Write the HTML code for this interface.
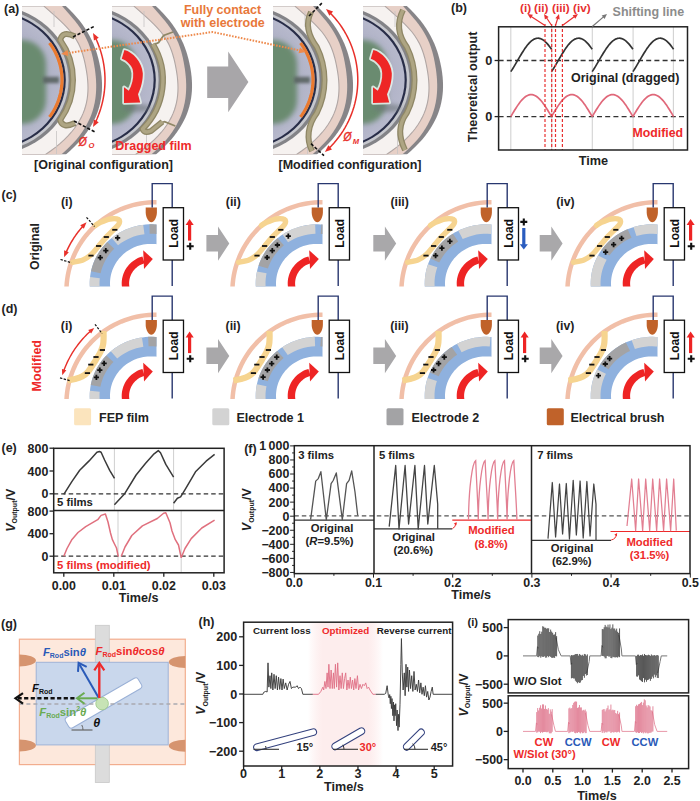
<!DOCTYPE html>
<html><head><meta charset="utf-8"><title>Figure</title>
<style>
html,body{margin:0;padding:0;background:#fff;width:700px;height:801px;overflow:hidden;}
svg{display:block;}
text{font-family:"Liberation Sans",sans-serif;}
</style></head><body>
<svg width="700" height="801" viewBox="0 0 700 801">
<rect width="700" height="801" fill="#fff"/>
<defs>
<radialGradient id="lav" cx="0.5" cy="0.5" r="0.5">
<stop offset="0" stop-color="#a8aac0"/><stop offset="0.7" stop-color="#adafc4"/><stop offset="1" stop-color="#b7b9cc"/>
</radialGradient>
<filter id="blur4" x="-30%" y="-30%" width="160%" height="160%"><feGaussianBlur stdDeviation="4"/></filter>
<filter id="blur2" x="-30%" y="-80%" width="160%" height="260%"><feGaussianBlur stdDeviation="2"/></filter>
<filter id="blur25" x="-30%" y="-30%" width="160%" height="160%"><feGaussianBlur stdDeviation="2.5"/></filter>
<filter id="blur15" x="-30%" y="-80%" width="160%" height="260%"><feGaussianBlur stdDeviation="1.5"/></filter>
<filter id="blur1" x="-30%" y="-60%" width="160%" height="220%"><feGaussianBlur stdDeviation="1.3"/></filter>
</defs>
<text x="4" y="13" font-size="12.5" fill="#222" text-anchor="start" font-weight="bold" >(a)</text>
<clipPath id="pc1"><rect x="22" y="6" width="86" height="148.5"/></clipPath>
<g clip-path="url(#pc1)">
<path d="M65.86 6 L69.75 9.71 L73.35 13.43 L76.66 17.14 L79.71 20.85 L82.51 24.56 L85.06 28.27 L87.38 31.99 L89.48 35.7 L91.37 39.41 L93.07 43.12 L94.59 46.84 L95.94 50.55 L97.14 54.26 L98.18 57.98 L99.1 61.69 L99.89 65.4 L100.57 69.11 L101.14 72.83 L101.57 76.54 L101.87 80.25 L102.02 83.96 L102.02 87.67 L101.86 91.39 L101.53 95.1 L101.01 98.81 L100.31 102.52 L99.41 106.24 L98.31 109.95 L96.99 113.66 L95.45 117.38 L93.68 121.09 L91.67 124.8 L89.41 128.51 L86.89 132.22 L84.11 135.94 L81.05 139.65 L77.71 143.36 L74.07 147.07 L70.14 150.79 L65.9 154.5 L17 155 L17 6 Z" fill="#878588"/>
<path d="M62.08 6 L65.38 9.71 L68.65 13.43 L71.82 17.14 L74.86 20.85 L77.74 24.56 L80.39 28.27 L82.78 31.99 L84.89 35.7 L86.74 39.41 L88.35 43.12 L89.74 46.84 L90.94 50.55 L91.97 54.26 L92.86 57.98 L93.62 61.69 L94.28 65.4 L94.86 69.11 L95.35 72.83 L95.74 76.54 L96.01 80.25 L96.17 83.96 L96.19 87.67 L96.06 91.39 L95.78 95.1 L95.33 98.81 L94.71 102.52 L93.89 106.24 L92.88 109.95 L91.66 113.66 L90.21 117.38 L88.53 121.09 L86.62 124.8 L84.44 128.51 L82.01 132.22 L79.29 135.94 L76.29 139.65 L73 143.36 L69.39 147.07 L65.47 150.79 L61.21 154.5 L17 155 L17 6 Z" fill="#e7d0c7"/>
<path d="M43.85 6 L48 9.71 L52.2 13.43 L56.36 17.14 L60.41 20.85 L64.26 24.56 L67.81 28.27 L71 31.99 L73.78 35.7 L76.17 39.41 L78.22 43.12 L79.96 46.84 L81.44 50.55 L82.69 54.26 L83.75 57.98 L84.66 61.69 L85.45 65.4 L86.16 69.11 L86.78 72.83 L87.29 76.54 L87.67 80.25 L87.91 83.96 L88 87.67 L87.92 91.39 L87.65 95.1 L87.18 98.81 L86.49 102.52 L85.57 106.24 L84.41 109.95 L82.98 113.66 L81.27 117.38 L79.27 121.09 L76.96 124.8 L74.33 128.51 L71.36 132.22 L68.04 135.94 L64.34 139.65 L60.26 143.36 L55.78 147.07 L50.89 150.79 L45.57 154.5 L17 155 L17 6 Z" fill="#f6f2f0" stroke="#b0a6a4" stroke-width="1.1"/>
<path d="M54 11 L54 27 M56.5 131 L56.5 154" stroke="#c8c4c4" stroke-width="0.8"/>
</g>
<clipPath id="dc1"><rect x="22" y="6" width="86" height="148.5"/></clipPath>
<g clip-path="url(#dc1)">
<g transform="translate(-10.1 80) scale(1 0.912)">
<circle cx="0" cy="0" r="82.2" fill="#838387"/>
<circle cx="0" cy="0" r="78.7" fill="#c6c7cd"/>
<circle cx="0" cy="0" r="75.9" fill="#282d48"/>
<circle cx="0" cy="0" r="73.7" fill="url(#lav)"/>
</g>
<rect x="-8" y="40" width="54" height="84" rx="24" fill="#6a8b70" filter="url(#blur25)"/>
<rect x="43" y="76.8" width="16" height="6.4" fill="#596260" opacity="0.9" filter="url(#blur15)"/>
<path d="M49.5 43 L51.07 45.19 L52.54 47.44 L53.92 49.75 L55.19 52.1 L56.35 54.49 L57.41 56.92 L58.37 59.39 L59.21 61.9 L59.95 64.43 L60.57 66.99 L61.09 69.56 L61.49 72.16 L61.77 74.77 L61.94 77.38 L62 80 L61.94 82.62 L61.77 85.23 L61.49 87.84 L61.09 90.44 L60.57 93.01 L59.95 95.57 L59.21 98.1 L58.37 100.61 L57.41 103.08 L56.35 105.51 L55.19 107.9 L53.92 110.25 L52.54 112.56 L51.07 114.81 L49.5 117" stroke="#ea7a30" stroke-width="3.2" fill="none"/>
</g>
<path d="M75 36.5 Q62.5 30 60.2 40 A68.9 68.9 0 0 1 60.2 120 Q62.5 129 75 123" stroke="#8f8766" stroke-width="6" fill="none"/><path d="M75 36.5 Q62.5 30 60.2 40 A68.9 68.9 0 0 1 60.2 120 Q62.5 129 75 123" stroke="#aea583" stroke-width="3.4" fill="none"/>
<clipPath id="pc2"><rect x="112" y="6" width="86" height="148.5"/></clipPath>
<g clip-path="url(#pc2)">
<path d="M155.86 6 L159.75 9.71 L163.35 13.43 L166.66 17.14 L169.71 20.85 L172.51 24.56 L175.06 28.27 L177.38 31.99 L179.48 35.7 L181.37 39.41 L183.07 43.12 L184.59 46.84 L185.94 50.55 L187.14 54.26 L188.18 57.98 L189.1 61.69 L189.89 65.4 L190.57 69.11 L191.14 72.83 L191.57 76.54 L191.87 80.25 L192.02 83.96 L192.02 87.67 L191.86 91.39 L191.53 95.1 L191.01 98.81 L190.31 102.52 L189.41 106.24 L188.31 109.95 L186.99 113.66 L185.45 117.38 L183.68 121.09 L181.67 124.8 L179.41 128.51 L176.89 132.22 L174.11 135.94 L171.05 139.65 L167.71 143.36 L164.07 147.07 L160.14 150.79 L155.9 154.5 L107 155 L107 6 Z" fill="#878588"/>
<path d="M152.08 6 L155.38 9.71 L158.65 13.43 L161.82 17.14 L164.86 20.85 L167.74 24.56 L170.39 28.27 L172.78 31.99 L174.89 35.7 L176.74 39.41 L178.35 43.12 L179.74 46.84 L180.94 50.55 L181.97 54.26 L182.86 57.98 L183.62 61.69 L184.28 65.4 L184.86 69.11 L185.35 72.83 L185.74 76.54 L186.01 80.25 L186.17 83.96 L186.19 87.67 L186.06 91.39 L185.78 95.1 L185.33 98.81 L184.71 102.52 L183.89 106.24 L182.88 109.95 L181.66 113.66 L180.21 117.38 L178.53 121.09 L176.62 124.8 L174.44 128.51 L172.01 132.22 L169.29 135.94 L166.29 139.65 L163 143.36 L159.39 147.07 L155.47 150.79 L151.21 154.5 L107 155 L107 6 Z" fill="#e7d0c7"/>
<path d="M133.85 6 L138 9.71 L142.2 13.43 L146.36 17.14 L150.41 20.85 L154.26 24.56 L157.81 28.27 L161 31.99 L163.78 35.7 L166.17 39.41 L168.22 43.12 L169.96 46.84 L171.44 50.55 L172.69 54.26 L173.75 57.98 L174.66 61.69 L175.45 65.4 L176.16 69.11 L176.78 72.83 L177.29 76.54 L177.67 80.25 L177.91 83.96 L178 87.67 L177.92 91.39 L177.65 95.1 L177.18 98.81 L176.49 102.52 L175.57 106.24 L174.41 109.95 L172.98 113.66 L171.27 117.38 L169.27 121.09 L166.96 124.8 L164.33 128.51 L161.36 132.22 L158.04 135.94 L154.34 139.65 L150.26 143.36 L145.78 147.07 L140.89 150.79 L135.57 154.5 L107 155 L107 6 Z" fill="#f6f2f0" stroke="#b0a6a4" stroke-width="1.1"/>
<path d="M144 11 L144 27 M146.5 131 L146.5 154" stroke="#c8c4c4" stroke-width="0.8"/>
</g>
<clipPath id="dc2"><rect x="112" y="6" width="86" height="148.5"/></clipPath>
<g clip-path="url(#dc2)">
<g transform="translate(79.9 80) scale(1 0.912)">
<circle cx="0" cy="0" r="82.2" fill="#838387"/>
<circle cx="0" cy="0" r="78.7" fill="#c6c7cd"/>
<circle cx="0" cy="0" r="75.9" fill="#282d48"/>
<circle cx="0" cy="0" r="73.7" fill="url(#lav)"/>
</g>
<rect x="82" y="40" width="54" height="84" rx="24" fill="#6a8b70" filter="url(#blur25)"/>
<ellipse cx="137" cy="108" rx="14" ry="4" fill="#6d7478" opacity="0.6" filter="url(#blur2)"/>
</g>
<path d="M173 32 L163.6 35.4 L158.6 42.6 L153.5 45 M161.5 122.5 L164.6 121.7 L175.3 126" stroke="#8f8766" stroke-width="1.8" fill="none"/><path d="M152.8 44 A68.9 68.9 0 0 1 142.5 129 Q144.5 133.5 151 131 L162.4 121.7" stroke="#8f8766" stroke-width="6" fill="none" stroke-linejoin="round"/><path d="M152.8 44 A68.9 68.9 0 0 1 142.5 129 Q144.5 133.5 151 131 L162.4 121.7" stroke="#aea583" stroke-width="3.4" fill="none" stroke-linejoin="round"/>
<g transform="translate(0 0)"><path d="M121.8 58.8 L124.4 50 C133 52 142 62 142.8 73.2 C143 80 141 88 138 94.2 L140.2 102.5 L124 102.9 L124 87.2 L128.8 90.7 C132 85 133.5 79 133.2 73.2 C133 68 131 66 129.7 64.5 C127 61 124 59.5 121.8 58.8 Z" fill="none" stroke="#e4eeea" stroke-width="3.5" stroke-linejoin="round" opacity="0.9"/><path d="M121.8 58.8 L124.4 50 C133 52 142 62 142.8 73.2 C143 80 141 88 138 94.2 L140.2 102.5 L124 102.9 L124 87.2 L128.8 90.7 C132 85 133.5 79 133.2 73.2 C133 68 131 66 129.7 64.5 C127 61 124 59.5 121.8 58.8 Z" fill="#ee2626"/></g>
<clipPath id="pc3"><rect x="273" y="6" width="86" height="148.5"/></clipPath>
<g clip-path="url(#pc3)">
<path d="M316.86 6 L320.75 9.71 L324.35 13.43 L327.66 17.14 L330.71 20.85 L333.51 24.56 L336.06 28.27 L338.38 31.99 L340.48 35.7 L342.37 39.41 L344.07 43.12 L345.59 46.84 L346.94 50.55 L348.14 54.26 L349.18 57.98 L350.1 61.69 L350.89 65.4 L351.57 69.11 L352.14 72.83 L352.57 76.54 L352.87 80.25 L353.02 83.96 L353.02 87.67 L352.86 91.39 L352.53 95.1 L352.01 98.81 L351.31 102.52 L350.41 106.24 L349.31 109.95 L347.99 113.66 L346.45 117.38 L344.68 121.09 L342.67 124.8 L340.41 128.51 L337.89 132.22 L335.11 135.94 L332.05 139.65 L328.71 143.36 L325.07 147.07 L321.14 150.79 L316.9 154.5 L268 155 L268 6 Z" fill="#878588"/>
<path d="M313.08 6 L316.38 9.71 L319.65 13.43 L322.82 17.14 L325.86 20.85 L328.74 24.56 L331.39 28.27 L333.78 31.99 L335.89 35.7 L337.74 39.41 L339.35 43.12 L340.74 46.84 L341.94 50.55 L342.97 54.26 L343.86 57.98 L344.62 61.69 L345.28 65.4 L345.86 69.11 L346.35 72.83 L346.74 76.54 L347.01 80.25 L347.17 83.96 L347.19 87.67 L347.06 91.39 L346.78 95.1 L346.33 98.81 L345.71 102.52 L344.89 106.24 L343.88 109.95 L342.66 113.66 L341.21 117.38 L339.53 121.09 L337.62 124.8 L335.44 128.51 L333.01 132.22 L330.29 135.94 L327.29 139.65 L324 143.36 L320.39 147.07 L316.47 150.79 L312.21 154.5 L268 155 L268 6 Z" fill="#e7d0c7"/>
<path d="M294.85 6 L299 9.71 L303.2 13.43 L307.36 17.14 L311.41 20.85 L315.26 24.56 L318.81 28.27 L322 31.99 L324.78 35.7 L327.17 39.41 L329.22 43.12 L330.96 46.84 L332.44 50.55 L333.69 54.26 L334.75 57.98 L335.66 61.69 L336.45 65.4 L337.16 69.11 L337.78 72.83 L338.29 76.54 L338.67 80.25 L338.91 83.96 L339 87.67 L338.92 91.39 L338.65 95.1 L338.18 98.81 L337.49 102.52 L336.57 106.24 L335.41 109.95 L333.98 113.66 L332.27 117.38 L330.27 121.09 L327.96 124.8 L325.33 128.51 L322.36 132.22 L319.04 135.94 L315.34 139.65 L311.26 143.36 L306.78 147.07 L301.89 150.79 L296.57 154.5 L268 155 L268 6 Z" fill="#f6f2f0" stroke="#b0a6a4" stroke-width="1.1"/>
<path d="M305 11 L305 27 M307.5 131 L307.5 154" stroke="#c8c4c4" stroke-width="0.8"/>
</g>
<clipPath id="dc3"><rect x="273" y="6" width="86" height="148.5"/></clipPath>
<g clip-path="url(#dc3)">
<g transform="translate(240.9 80) scale(1 0.912)">
<circle cx="0" cy="0" r="82.2" fill="#838387"/>
<circle cx="0" cy="0" r="78.7" fill="#c6c7cd"/>
<circle cx="0" cy="0" r="75.9" fill="#282d48"/>
<circle cx="0" cy="0" r="73.7" fill="url(#lav)"/>
</g>
<rect x="243" y="40" width="54" height="84" rx="24" fill="#6a8b70" filter="url(#blur25)"/>
<rect x="294" y="76.8" width="16" height="6.4" fill="#596260" opacity="0.9" filter="url(#blur15)"/>
<path d="M300.5 43 L302.07 45.19 L303.54 47.44 L304.92 49.75 L306.19 52.1 L307.35 54.49 L308.41 56.92 L309.37 59.39 L310.21 61.9 L310.95 64.43 L311.57 66.99 L312.09 69.56 L312.49 72.16 L312.77 74.77 L312.94 77.38 L313 80 L312.94 82.62 L312.77 85.23 L312.49 87.84 L312.09 90.44 L311.57 93.01 L310.95 95.57 L310.21 98.1 L309.37 100.61 L308.41 103.08 L307.35 105.51 L306.19 107.9 L304.92 110.25 L303.54 112.56 L302.07 114.81 L300.5 117" stroke="#ea7a30" stroke-width="3.2" fill="none"/>
</g>
<path d="M311 12 C305 24 307.79 35 316.79 47 A74.5 74.5 0 0 1 316.79 113 C307.79 125 306 139 312 151" stroke="#8f8766" stroke-width="6" fill="none"/><path d="M311 12 C305 24 307.79 35 316.79 47 A74.5 74.5 0 0 1 316.79 113 C307.79 125 306 139 312 151" stroke="#aea583" stroke-width="3.4" fill="none"/>
<clipPath id="pc4"><rect x="363" y="6" width="86" height="148.5"/></clipPath>
<g clip-path="url(#pc4)">
<path d="M406.86 6 L410.75 9.71 L414.35 13.43 L417.66 17.14 L420.71 20.85 L423.51 24.56 L426.06 28.27 L428.38 31.99 L430.48 35.7 L432.37 39.41 L434.07 43.12 L435.59 46.84 L436.94 50.55 L438.14 54.26 L439.18 57.98 L440.1 61.69 L440.89 65.4 L441.57 69.11 L442.14 72.83 L442.57 76.54 L442.87 80.25 L443.02 83.96 L443.02 87.67 L442.86 91.39 L442.53 95.1 L442.01 98.81 L441.31 102.52 L440.41 106.24 L439.31 109.95 L437.99 113.66 L436.45 117.38 L434.68 121.09 L432.67 124.8 L430.41 128.51 L427.89 132.22 L425.11 135.94 L422.05 139.65 L418.71 143.36 L415.07 147.07 L411.14 150.79 L406.9 154.5 L358 155 L358 6 Z" fill="#878588"/>
<path d="M403.08 6 L406.38 9.71 L409.65 13.43 L412.82 17.14 L415.86 20.85 L418.74 24.56 L421.39 28.27 L423.78 31.99 L425.89 35.7 L427.74 39.41 L429.35 43.12 L430.74 46.84 L431.94 50.55 L432.97 54.26 L433.86 57.98 L434.62 61.69 L435.28 65.4 L435.86 69.11 L436.35 72.83 L436.74 76.54 L437.01 80.25 L437.17 83.96 L437.19 87.67 L437.06 91.39 L436.78 95.1 L436.33 98.81 L435.71 102.52 L434.89 106.24 L433.88 109.95 L432.66 113.66 L431.21 117.38 L429.53 121.09 L427.62 124.8 L425.44 128.51 L423.01 132.22 L420.29 135.94 L417.29 139.65 L414 143.36 L410.39 147.07 L406.47 150.79 L402.21 154.5 L358 155 L358 6 Z" fill="#e7d0c7"/>
<path d="M384.85 6 L389 9.71 L393.2 13.43 L397.36 17.14 L401.41 20.85 L405.26 24.56 L408.81 28.27 L412 31.99 L414.78 35.7 L417.17 39.41 L419.22 43.12 L420.96 46.84 L422.44 50.55 L423.69 54.26 L424.75 57.98 L425.66 61.69 L426.45 65.4 L427.16 69.11 L427.78 72.83 L428.29 76.54 L428.67 80.25 L428.91 83.96 L429 87.67 L428.92 91.39 L428.65 95.1 L428.18 98.81 L427.49 102.52 L426.57 106.24 L425.41 109.95 L423.98 113.66 L422.27 117.38 L420.27 121.09 L417.96 124.8 L415.33 128.51 L412.36 132.22 L409.04 135.94 L405.34 139.65 L401.26 143.36 L396.78 147.07 L391.89 150.79 L386.57 154.5 L358 155 L358 6 Z" fill="#f6f2f0" stroke="#b0a6a4" stroke-width="1.1"/>
<path d="M395 11 L395 27 M397.5 131 L397.5 154" stroke="#c8c4c4" stroke-width="0.8"/>
</g>
<clipPath id="dc4"><rect x="363" y="6" width="86" height="148.5"/></clipPath>
<g clip-path="url(#dc4)">
<g transform="translate(330.9 80) scale(1 0.912)">
<circle cx="0" cy="0" r="82.2" fill="#838387"/>
<circle cx="0" cy="0" r="78.7" fill="#c6c7cd"/>
<circle cx="0" cy="0" r="75.9" fill="#282d48"/>
<circle cx="0" cy="0" r="73.7" fill="url(#lav)"/>
</g>
<rect x="333" y="40" width="54" height="84" rx="24" fill="#6a8b70" filter="url(#blur25)"/>
<ellipse cx="388" cy="108" rx="14" ry="4" fill="#6d7478" opacity="0.6" filter="url(#blur2)"/>
</g>
<path d="M403 10 C397 22 397.79 35 406.79 47 A74.5 74.5 0 0 1 406.79 113 C397.79 125 399 138 405 150" stroke="#8f8766" stroke-width="6" fill="none"/><path d="M403 10 C397 22 397.79 35 406.79 47 A74.5 74.5 0 0 1 406.79 113 C397.79 125 399 138 405 150" stroke="#aea583" stroke-width="3.4" fill="none"/>
<g transform="translate(249 0)"><path d="M121.8 58.8 L124.4 50 C133 52 142 62 142.8 73.2 C143 80 141 88 138 94.2 L140.2 102.5 L124 102.9 L124 87.2 L128.8 90.7 C132 85 133.5 79 133.2 73.2 C133 68 131 66 129.7 64.5 C127 61 124 59.5 121.8 58.8 Z" fill="none" stroke="#e4eeea" stroke-width="3.5" stroke-linejoin="round" opacity="0.9"/><path d="M121.8 58.8 L124.4 50 C133 52 142 62 142.8 73.2 C143 80 141 88 138 94.2 L140.2 102.5 L124 102.9 L124 87.2 L128.8 90.7 C132 85 133.5 79 133.2 73.2 C133 68 131 66 129.7 64.5 C127 61 124 59.5 121.8 58.8 Z" fill="#ee2626"/></g>
<path d="M207.2 66.6 L228.2 66.6 L228.2 51.6 L248.4 82 L228.2 112.3 L228.2 98 L207.2 98 Z" fill="#a8a6a9"/>
<path d="M73 37 L95 26" stroke="#111" stroke-width="1.6" stroke-dasharray="3.2 1.8" fill="none"/>
<path d="M74 121 L95 132" stroke="#111" stroke-width="1.6" stroke-dasharray="3.2 1.8" fill="none"/>
<path d="M309 16 L323 2" stroke="#111" stroke-width="1.6" stroke-dasharray="3.2 1.8" fill="none"/>
<path d="M311 143.7 L324 155.7" stroke="#111" stroke-width="1.6" stroke-dasharray="3.2 1.8" fill="none"/>
<path d="M95.34 37.56 L96.26 39.55 L97.15 41.56 L97.99 43.59 L98.78 45.64 L99.52 47.7 L100.22 49.78 L100.88 51.87 L101.48 53.98 L102.04 56.11 L102.55 58.24 L103.02 60.38 L103.43 62.54 L103.8 64.7 L104.12 66.87 L104.39 69.05 L104.61 71.23 L104.78 73.42 L104.9 75.61 L104.98 77.81 L105 80 L104.98 82.19 L104.9 84.39 L104.78 86.58 L104.61 88.77 L104.39 90.95 L104.12 93.13 L103.8 95.3 L103.43 97.46 L103.02 99.62 L102.55 101.76 L102.04 103.89 L101.48 106.02 L100.88 108.13 L100.22 110.22 L99.52 112.3 L98.78 114.36 L97.99 116.41 L97.15 118.44 L96.26 120.45 L95.34 122.44" stroke="#e8302a" stroke-width="1.5" fill="none"/>
<path d="M92.99 33 L98.76 37.82 L93.94 40.46 Z" fill="#e8302a"/>
<path d="M92.99 127 L93.94 119.54 L98.76 122.18 Z" fill="#e8302a"/>
<path d="M329.65 12.42 L332.29 15.14 L334.82 17.97 L337.23 20.9 L339.53 23.92 L341.7 27.03 L343.75 30.23 L345.67 33.5 L347.46 36.85 L349.11 40.26 L350.63 43.74 L352 47.28 L353.23 50.87 L354.32 54.51 L355.27 58.18 L356.06 61.89 L356.71 65.63 L357.21 69.39 L357.55 73.17 L357.75 76.96 L357.8 80.76 L357.69 84.55 L357.43 88.34 L357.03 92.11 L356.47 95.86 L355.76 99.59 L354.91 103.29 L353.91 106.95 L352.76 110.57 L351.47 114.14 L350.04 117.65 L348.47 121.11 L346.76 124.5 L344.92 127.82 L342.95 131.06 L340.85 134.22 L338.63 137.3 L336.28 140.28 L333.82 143.17 L331.25 145.96 L328.56 148.64" stroke="#e8302a" stroke-width="1.5" fill="none"/>
<path d="M326.02 9 L333.07 11.61 L329.41 15.71 Z" fill="#e8302a"/>
<path d="M324.88 152 L328.38 145.34 L331.98 149.5 Z" fill="#e8302a"/>
<text transform="translate(78.8 146.3) scale(0.8 1)" font-size="12.8" fill="#e8302a" font-style="italic" stroke="#e8302a" stroke-width="0.45">&#216;</text>
<text x="88.6" y="148.3" font-size="7.6" fill="#e8302a" text-anchor="start" font-weight="bold" font-style="italic" >O</text>
<text transform="translate(343.6 141.2) scale(0.8 1)" font-size="12.8" fill="#e8302a" font-style="italic" stroke="#e8302a" stroke-width="0.45">&#216;</text>
<text x="352.8" y="143.6" font-size="7.6" fill="#e8302a" text-anchor="start" font-weight="bold" font-style="italic" >M</text>
<path d="M66 53.3 L212.5 32 L300 50.5" stroke="#ee8a4c" stroke-width="2" stroke-dasharray="1.6 1.4" fill="none"/>
<path d="M61 54 L67.52 50.06 L68.35 56 Z" fill="#ee8a4c"/>
<path d="M306 52 L298.48 53.21 L299.94 47.39 Z" fill="#ee8a4c"/>
<text x="222.5" y="13.7" font-size="12.5" fill="#e8783a" text-anchor="middle" font-weight="bold" >Fully contact</text>
<text x="222.8" y="27.4" font-size="12.5" fill="#e8783a" text-anchor="middle" font-weight="bold" >with electrode</text>
<text x="153.5" y="149.7" font-size="12.5" fill="#ee2a2a" text-anchor="middle" font-weight="bold" >Dragged film</text>
<text x="103.5" y="169.3" font-size="12.5" fill="#222" text-anchor="middle" font-weight="bold" >[Original configuration]</text>
<text x="350" y="169.3" font-size="12.5" fill="#222" text-anchor="middle" font-weight="bold" >[Modified configuration]</text>
<text x="451" y="11.5" font-size="12.5" fill="#222" text-anchor="start" font-weight="bold" >(b)</text>
<path d="M510.8 26.8 L510.8 150" stroke="#d2d2d2" stroke-width="1.1"/>
<path d="M551.7 26.8 L551.7 150" stroke="#d2d2d2" stroke-width="1.1"/>
<path d="M592.3 26.8 L592.3 150" stroke="#d2d2d2" stroke-width="1.1"/>
<path d="M633.1 26.8 L633.1 150" stroke="#d2d2d2" stroke-width="1.1"/>
<path d="M673.4 26.8 L673.4 150" stroke="#d2d2d2" stroke-width="1.1"/>
<path d="M498.6 60.5 L687.5 60.5" stroke="#333" stroke-width="1.3" stroke-dasharray="5 3.2"/>
<path d="M494.6 60.5 L498.6 60.5" stroke="#222" stroke-width="1.3"/>
<text x="492.3" y="65.1" font-size="12.7" fill="#222" text-anchor="end" font-weight="bold" >0</text>
<path d="M498.6 116.6 L687.5 116.6" stroke="#333" stroke-width="1.3" stroke-dasharray="5 3.2"/>
<path d="M494.6 116.6 L498.6 116.6" stroke="#222" stroke-width="1.3"/>
<text x="492.3" y="121.2" font-size="12.7" fill="#222" text-anchor="end" font-weight="bold" >0</text>
<path d="M510.8 71.65 L511.82 70.1 L512.84 68.49 L513.85 66.83 L514.87 65.14 L515.89 63.41 L516.9 61.67 L517.92 59.92 L518.94 58.17 L519.96 56.44 L520.98 54.73 L521.99 53.06 L523.01 51.43 L524.03 49.86 L525.04 48.35 L526.06 46.92 L527.08 45.58 L528.1 44.32 L529.12 43.17 L530.13 42.12 L531.15 41.19 L532.17 40.37 L533.19 39.68 L534.2 39.12 L535.22 38.69 L536.24 38.39 L537.25 38.23 L538.27 38.21 L539.29 38.32 L540.31 38.57 L541.33 38.96 L542.34 39.48 L543.36 40.13 L544.38 40.9 L545.39 41.8 L546.41 42.81 L547.43 43.93 L548.45 45.15 L549.47 46.47 L550.48 47.87 L551.5 49.35" stroke="#333" stroke-width="1.7" fill="none"/>
<path d="M551.5 71.65 L552.52 70.1 L553.53 68.49 L554.55 66.83 L555.57 65.14 L556.59 63.41 L557.61 61.67 L558.62 59.92 L559.64 58.17 L560.66 56.44 L561.67 54.73 L562.69 53.06 L563.71 51.43 L564.73 49.86 L565.75 48.35 L566.76 46.92 L567.78 45.58 L568.8 44.32 L569.82 43.17 L570.83 42.12 L571.85 41.19 L572.87 40.37 L573.88 39.68 L574.9 39.12 L575.92 38.69 L576.94 38.39 L577.96 38.23 L578.97 38.21 L579.99 38.32 L581.01 38.57 L582.02 38.96 L583.04 39.48 L584.06 40.13 L585.08 40.9 L586.1 41.8 L587.11 42.81 L588.13 43.93 L589.15 45.15 L590.16 46.47 L591.18 47.87 L592.2 49.35" stroke="#333" stroke-width="1.7" fill="none"/>
<path d="M592.2 71.65 L593.22 70.1 L594.24 68.49 L595.25 66.83 L596.27 65.14 L597.29 63.41 L598.31 61.67 L599.32 59.92 L600.34 58.17 L601.36 56.44 L602.38 54.73 L603.39 53.06 L604.41 51.43 L605.43 49.86 L606.45 48.35 L607.46 46.92 L608.48 45.58 L609.5 44.32 L610.52 43.17 L611.53 42.12 L612.55 41.19 L613.57 40.37 L614.59 39.68 L615.6 39.12 L616.62 38.69 L617.64 38.39 L618.66 38.23 L619.67 38.21 L620.69 38.32 L621.71 38.57 L622.73 38.96 L623.74 39.48 L624.76 40.13 L625.78 40.9 L626.8 41.8 L627.81 42.81 L628.83 43.93 L629.85 45.15 L630.87 46.47 L631.88 47.87 L632.9 49.35" stroke="#333" stroke-width="1.7" fill="none"/>
<path d="M632.9 71.65 L633.92 70.1 L634.93 68.49 L635.95 66.83 L636.97 65.14 L637.99 63.41 L639 61.67 L640.02 59.92 L641.04 58.17 L642.06 56.44 L643.07 54.73 L644.09 53.06 L645.11 51.43 L646.13 49.86 L647.14 48.35 L648.16 46.92 L649.18 45.58 L650.2 44.32 L651.22 43.17 L652.23 42.12 L653.25 41.19 L654.27 40.37 L655.28 39.68 L656.3 39.12 L657.32 38.69 L658.34 38.39 L659.36 38.23 L660.37 38.21 L661.39 38.32 L662.41 38.57 L663.42 38.96 L664.44 39.48 L665.46 40.13 L666.48 40.9 L667.5 41.8 L668.51 42.81 L669.53 43.93 L670.55 45.15 L671.56 46.47 L672.58 47.87 L673.6 49.35" stroke="#333" stroke-width="1.7" fill="none"/>
<path d="M510.8 116.6 L511.82 114.87 L512.84 113.16 L513.85 111.46 L514.87 109.8 L515.89 108.18 L516.9 106.61 L517.92 105.11 L518.94 103.67 L519.96 102.31 L520.98 101.04 L521.99 99.87 L523.01 98.8 L524.03 97.84 L525.04 97 L526.06 96.27 L527.08 95.68 L528.1 95.21 L529.12 94.87 L530.13 94.67 L531.15 94.6 L532.17 94.67 L533.19 94.87 L534.2 95.21 L535.22 95.68 L536.24 96.27 L537.25 97 L538.27 97.84 L539.29 98.8 L540.31 99.87 L541.33 101.04 L542.34 102.31 L543.36 103.67 L544.38 105.11 L545.39 106.61 L546.41 108.18 L547.43 109.8 L548.45 111.46 L549.47 113.16 L550.48 114.87 L551.5 116.6" stroke="#e0687a" stroke-width="1.7" fill="none"/>
<path d="M551.5 116.6 L552.52 114.87 L553.53 113.16 L554.55 111.46 L555.57 109.8 L556.59 108.18 L557.61 106.61 L558.62 105.11 L559.64 103.67 L560.66 102.31 L561.67 101.04 L562.69 99.87 L563.71 98.8 L564.73 97.84 L565.75 97 L566.76 96.27 L567.78 95.68 L568.8 95.21 L569.82 94.87 L570.83 94.67 L571.85 94.6 L572.87 94.67 L573.88 94.87 L574.9 95.21 L575.92 95.68 L576.94 96.27 L577.96 97 L578.97 97.84 L579.99 98.8 L581.01 99.87 L582.02 101.04 L583.04 102.31 L584.06 103.67 L585.08 105.11 L586.1 106.61 L587.11 108.18 L588.13 109.8 L589.15 111.46 L590.16 113.16 L591.18 114.87 L592.2 116.6" stroke="#e0687a" stroke-width="1.7" fill="none"/>
<path d="M592.2 116.6 L593.22 114.87 L594.24 113.16 L595.25 111.46 L596.27 109.8 L597.29 108.18 L598.31 106.61 L599.32 105.11 L600.34 103.67 L601.36 102.31 L602.38 101.04 L603.39 99.87 L604.41 98.8 L605.43 97.84 L606.45 97 L607.46 96.27 L608.48 95.68 L609.5 95.21 L610.52 94.87 L611.53 94.67 L612.55 94.6 L613.57 94.67 L614.59 94.87 L615.6 95.21 L616.62 95.68 L617.64 96.27 L618.66 97 L619.67 97.84 L620.69 98.8 L621.71 99.87 L622.73 101.04 L623.74 102.31 L624.76 103.67 L625.78 105.11 L626.8 106.61 L627.81 108.18 L628.83 109.8 L629.85 111.46 L630.87 113.16 L631.88 114.87 L632.9 116.6" stroke="#e0687a" stroke-width="1.7" fill="none"/>
<path d="M632.9 116.6 L633.92 114.87 L634.93 113.16 L635.95 111.46 L636.97 109.8 L637.99 108.18 L639 106.61 L640.02 105.11 L641.04 103.67 L642.06 102.31 L643.07 101.04 L644.09 99.87 L645.11 98.8 L646.13 97.84 L647.14 97 L648.16 96.27 L649.18 95.68 L650.2 95.21 L651.22 94.87 L652.23 94.67 L653.25 94.6 L654.27 94.67 L655.28 94.87 L656.3 95.21 L657.32 95.68 L658.34 96.27 L659.36 97 L660.37 97.84 L661.39 98.8 L662.41 99.87 L663.42 101.04 L664.44 102.31 L665.46 103.67 L666.48 105.11 L667.5 106.61 L668.51 108.18 L669.53 109.8 L670.55 111.46 L671.56 113.16 L672.58 114.87 L673.6 116.6" stroke="#e0687a" stroke-width="1.7" fill="none"/>
<path d="M545 24 L545 150" stroke="#e83030" stroke-width="1.2" stroke-dasharray="3 2"/>
<path d="M551.7 24 L551.7 150" stroke="#e83030" stroke-width="1.2" stroke-dasharray="3 2"/>
<path d="M555.5 24 L555.5 150" stroke="#e83030" stroke-width="1.2" stroke-dasharray="3 2"/>
<path d="M562.4 24 L562.4 150" stroke="#e83030" stroke-width="1.2" stroke-dasharray="3 2"/>
<rect x="498.6" y="26.8" width="188.89999999999998" height="123.2" fill="none" stroke="#222" stroke-width="1.5"/>
<path d="M545 25.5 L530.01 15.65" stroke="#e83030" stroke-width="1.2"/>
<path d="M527.5 14 L532.91 14.87 L530.44 18.63 Z" fill="#e83030"/>
<path d="M551.7 25.5 L545.67 16.49" stroke="#e83030" stroke-width="1.2"/>
<path d="M544 14 L548.65 16.9 L544.91 19.41 Z" fill="#e83030"/>
<path d="M555.5 25.5 L558.13 16.87" stroke="#e83030" stroke-width="1.2"/>
<path d="M559 14 L559.7 19.44 L555.39 18.13 Z" fill="#e83030"/>
<path d="M562.4 25.5 L575.59 15.78" stroke="#e83030" stroke-width="1.2"/>
<path d="M578 14 L575.31 18.78 L572.64 15.16 Z" fill="#e83030"/>
<path d="M592.3 26.5 L604.68 15.9" stroke="#777" stroke-width="1.2"/>
<path d="M607 14 L604.55 18.9 L601.7 15.42 Z" fill="#777"/>
<text x="520" y="12.3" font-size="11.8" fill="#e83030" text-anchor="start" font-weight="bold" >(i)</text>
<text x="534" y="12.3" font-size="11.8" fill="#e83030" text-anchor="start" font-weight="bold" >(ii)</text>
<text x="552" y="12.3" font-size="11.8" fill="#e83030" text-anchor="start" font-weight="bold" >(iii)</text>
<text x="573" y="12.3" font-size="11.8" fill="#e83030" text-anchor="start" font-weight="bold" >(iv)</text>
<text x="612.6" y="16.3" font-size="12.5" fill="#8c8c8c" text-anchor="start" font-weight="bold" >Shifting line</text>
<text x="571" y="82.2" font-size="12.5" fill="#222" text-anchor="start" font-weight="bold" >Original (dragged)</text>
<text x="683" y="137.3" font-size="12.3" fill="#ee2a2a" text-anchor="end" font-weight="bold" >Modified</text>
<text x="593.5" y="164.6" font-size="12.7" fill="#222" text-anchor="middle" font-weight="bold" >Time</text>
<text x="0" y="0" font-size="12.7" fill="#222" text-anchor="middle" font-weight="bold" transform="translate(477.4 86.9) rotate(-90)">Theoretical output</text>
<text x="1.5" y="198.8" font-size="12.5" fill="#222" text-anchor="start" font-weight="bold" >(c)</text>
<text x="1.5" y="313" font-size="12.5" fill="#222" text-anchor="start" font-weight="bold" >(d)</text>
<text x="0" y="0" font-size="12.4" fill="#222" text-anchor="middle" font-weight="bold" transform="translate(39.3 246.5) rotate(-90)">Original</text>
<text x="0" y="0" font-size="12.5" fill="#ee2a2a" text-anchor="middle" font-weight="bold" transform="translate(40.8 365.7) rotate(-90)">Modified</text>
<clipPath id="dc0_0"><rect x="40" y="180" width="116.5" height="106.5"/></clipPath>
<g clip-path="url(#dc0_0)">
<g transform="translate(155.5 291.3)"><path d="M-88.23 12.4 L-88.7 8.39 L-88.99 4.35 L-89.1 0.31 L-89.02 -3.73 L-88.76 -7.77 L-88.32 -11.78 L-87.69 -15.78 L-86.89 -19.74 L-85.9 -23.66 L-84.74 -27.53 L-83.4 -31.35 L-81.89 -35.1 L-80.22 -38.78 L-78.38 -42.38 L-76.37 -45.89 L-74.21 -49.31 L-71.9 -52.62 L-69.44 -55.83 L-66.83 -58.92 L-64.09 -61.89 L-61.22 -64.74 L-58.22 -67.45 L-55.1 -70.02 L-51.87 -72.45 L-48.53 -74.73 L-45.09 -76.85 L-41.56 -78.82 L-37.94 -80.62 L-34.24 -82.26 L-30.47 -83.73 L-26.64 -85.02 L-22.76 -86.14 L-18.83 -87.09 L-14.86 -87.85 L-10.86 -88.44 L-6.84 -88.84 L-2.8 -89.06 L1.24 -89.09 L5.28 -88.94 L9.31 -88.61" stroke="#f1bfa8" stroke-width="4.5" fill="none"/></g>
<g transform="translate(151 283.4) scale(1 0.964)">
<path d="M-59.96 12.74 L-60.52 9.75 L-60.93 6.73 L-61.19 3.69 L-61.3 0.64 L-61.25 -2.41 L-61.06 -5.45 L-60.71 -8.48 L-60.21 -11.49 L-59.57 -14.47 L-58.78 -17.41 L-57.84 -20.31 L-56.76 -23.16 L-55.53 -25.95 L-54.17 -28.68 L-52.68 -31.34 L-51.06 -33.92 L-49.31 -36.42 L-47.44 -38.83 L-45.45 -41.14 L-43.35 -43.35 L-41.14 -45.45 L-38.83 -47.44 L-36.42 -49.31 L-33.92 -51.06 L-31.34 -52.68 L-28.68 -54.17 L-25.95 -55.53 L-23.16 -56.76 L-20.31 -57.84 L-17.41 -58.78 L-14.47 -59.57 L-11.49 -60.21 L-8.48 -60.71 L-5.45 -61.06 L-2.41 -61.25 L0.64 -61.3 L3.69 -61.19 L6.73 -60.93 L9.75 -60.52 L12.74 -59.96 L8.52 -40.1 L6.52 -40.48 L4.5 -40.75 L2.47 -40.93 L0.43 -41 L-1.61 -40.97 L-3.64 -40.84 L-5.67 -40.61 L-7.68 -40.27 L-9.68 -39.84 L-11.64 -39.31 L-13.58 -38.68 L-15.49 -37.96 L-17.36 -37.14 L-19.19 -36.23 L-20.96 -35.24 L-22.69 -34.15 L-24.36 -32.98 L-25.97 -31.73 L-27.51 -30.4 L-28.99 -28.99 L-30.4 -27.51 L-31.73 -25.97 L-32.98 -24.36 L-34.15 -22.69 L-35.24 -20.96 L-36.23 -19.19 L-37.14 -17.36 L-37.96 -15.49 L-38.68 -13.58 L-39.31 -11.64 L-39.84 -9.68 L-40.27 -7.68 L-40.61 -5.67 L-40.84 -3.64 L-40.97 -1.61 L-41 0.43 L-40.93 2.47 L-40.75 4.5 L-40.48 6.52 L-40.1 8.52 Z" fill="#8fb1de"/>
<path d="M-59.96 12.74 L-60.42 10.37 L-60.78 7.97 L-61.05 5.57 L-61.22 3.15 L-61.3 0.74 L-61.28 -1.68 L-61.16 -4.1 L-60.95 -6.51 L-51.21 -5.47 L-51.38 -3.45 L-51.48 -1.42 L-51.5 0.62 L-51.43 2.65 L-51.29 4.68 L-51.06 6.7 L-50.76 8.71 L-50.37 10.71 Z" fill="#d3d3d3"/>
<path d="M-39.24 -47.1 L-35.8 -49.76 L-32.19 -52.17 L-28.41 -54.32 L-24.49 -56.19 L-20.45 -57.79 L-16.3 -59.09 L-12.08 -60.1 L-7.79 -60.8 L-6.54 -51.08 L-10.15 -50.49 L-13.7 -49.64 L-17.18 -48.55 L-20.58 -47.21 L-23.87 -45.63 L-27.04 -43.83 L-30.08 -41.8 L-32.97 -39.57 Z" fill="#d3d3d3"/>
<path d="M-59.98 -12.64 L-58.94 -16.86 L-57.59 -20.99 L-55.96 -25.02 L-54.05 -28.92 L-51.86 -32.68 L-49.42 -36.27 L-46.73 -39.68 L-43.8 -42.89 L-36.8 -36.03 L-39.26 -33.34 L-41.52 -30.47 L-43.57 -27.45 L-45.41 -24.3 L-47.02 -21.02 L-48.39 -17.64 L-49.51 -14.16 L-50.39 -10.62 Z" fill="#a3a3a5"/>
<path d="M-1.6 -61.28 L0.2 -61.3 L2.01 -61.27 L3.81 -61.18 L5.61 -61.04 L7.4 -60.85 L9.19 -60.61 L10.97 -60.31 L12.74 -59.96 L10.71 -50.37 L9.22 -50.67 L7.72 -50.92 L6.22 -51.12 L4.71 -51.28 L3.2 -51.4 L1.69 -51.47 L0.17 -51.5 L-1.35 -51.48 Z" fill="#a3a3a5"/>
<path d="M-28.66 6.09 L-28.98 4.31 L-29.19 2.51 L-29.29 0.7 L-29.28 -1.11 L-29.15 -2.91 L-28.92 -4.71 L-28.57 -6.49 L-28.12 -8.24 L-27.55 -9.96 L-26.89 -11.64 L-26.12 -13.28 L-25.25 -14.87 L-24.28 -16.4 L-23.22 -17.87 L-22.07 -19.27 L-20.84 -20.6 L-19.53 -21.85 L-18.14 -23.01 L-16.68 -24.09 L-15.16 -25.07 L-13.59 -25.96 L-11.96 -26.75 L-10.28 -27.44 L-8.57 -28.02 L-6.4 -20.94 L-7.68 -20.51 L-8.94 -19.99 L-10.15 -19.4 L-11.33 -18.74 L-12.47 -18 L-13.56 -17.2 L-14.59 -16.33 L-15.58 -15.4 L-16.5 -14.4 L-17.36 -13.36 L-18.15 -12.26 L-18.87 -11.12 L-19.52 -9.93 L-20.1 -8.7 L-20.6 -7.45 L-21.02 -6.16 L-21.36 -4.85 L-21.62 -3.52 L-21.79 -2.18 L-21.88 -0.83 L-21.89 0.53 L-21.82 1.88 L-21.66 3.22 L-21.42 4.55 Z" fill="#ee2424"/>
</g></g>
<g transform="translate(0 0)">
<path d="M143.2 250.2 L152.8 259 L144 268.9 Z" fill="#ee2424"/>
<path d="M72.6 262.3 C74.32 261.9 79.83 261.15 82.9 259.9 C85.97 258.65 88.43 257.05 91 254.8 C93.57 252.55 95.6 249.5 98.3 246.4 C101 243.3 104.55 239.07 107.2 236.2 C109.85 233.33 112.23 231.27 114.2 229.2 C116.17 227.13 118.32 225.43 119 223.8 C119.68 222.17 119.8 220.2 118.3 219.4 C116.8 218.6 112.97 218.5 110 219 C107.03 219.5 102.92 221.33 100.5 222.4 C98.08 223.47 96.33 224.9 95.5 225.4" stroke="#f6d490" stroke-width="5.4" fill="none" stroke-linecap="round"/>
<path d="M112.2 229.8 L117.4 229.8" stroke="#111" stroke-width="1.8"/>
<path d="M103.7 237 L108.9 237" stroke="#111" stroke-width="1.8"/>
<path d="M96 246 L101.2 246" stroke="#111" stroke-width="1.8"/>
<path d="M88.4 255.6 L93.6 255.6" stroke="#111" stroke-width="1.8"/>
<path d="M115 237.8 L120.2 237.8 M117.6 235.2 L117.6 240.4" stroke="#111" stroke-width="1.8"/>
<path d="M103.2 250.6 L108.4 250.6 M105.8 248 L105.8 253.2" stroke="#111" stroke-width="1.8"/>
<path d="M97.7 257.7 L102.9 257.7 M100.3 255.1 L100.3 260.3" stroke="#111" stroke-width="1.8"/>
<path d="M145.7 207.6 L156.9 207.6 L156.9 212.5 C156.9 217.5 154 222.2 151.3 222.2 C148.6 222.2 145.7 217.5 145.7 212.5 Z" fill="#c0622a"/>
<path d="M152.2 207.6 L152.2 183.6 L172.2 183.6 L172.2 207.7 M172.2 260 L172.2 286" stroke="#28376f" stroke-width="1.4" fill="none"/>
<rect x="163.2" y="207.7" width="20.3" height="52.3" fill="#fff" stroke="#111" stroke-width="1.3"/>
<text x="0" y="0" font-size="12" fill="#111" text-anchor="middle" font-weight="bold" transform="translate(177.9 233.3) rotate(-90)">Load</text>
<path d="M189.6 240.6 L189.6 224" stroke="#ee2424" stroke-width="3.2"/>
<path d="M185.6 224.9 L193.7 224.9 L189.6 219 Z" fill="#ee2424"/>
<path d="M186.7 246.2 L193.7 246.2 M190.2 242.7 L190.2 249.7" stroke="#111" stroke-width="2.1"/>
</g>
<text x="61" y="205.5" font-size="12.3" fill="#222" text-anchor="start" font-weight="bold" >(i)</text>
<g transform="translate(0 0)">
<path d="M65.13 254.71 L65.66 253.42 L66.21 252.14 L66.78 250.87 L67.37 249.6 L67.97 248.34 L68.6 247.1 L69.24 245.86 L69.9 244.63 L70.57 243.41 L71.27 242.2 L71.98 241 L72.71 239.81 L73.45 238.63 L74.21 237.46 L74.99 236.3 L75.79 235.15 L76.6 234.02 L77.43 232.9 L78.27 231.78 L79.13 230.68 L80.01 229.6 L80.9 228.52 L81.8 227.46 L82.73 226.41 L83.66 225.38 L84.61 224.36" stroke="#e8302a" stroke-width="1.5" fill="none"/>
<path d="M86.56 222.36 L83.82 228.76 L80.23 225.28 Z" fill="#e8302a"/>
<path d="M64.12 257.31 L64.14 250.35 L68.8 252.16 Z" fill="#e8302a"/>
<path d="M86.5 217.3 L94.5 226.5" stroke="#111" stroke-width="1.2" stroke-dasharray="2.4 1.4" fill="none"/>
<path d="M60.5 259.5 L71.5 262.8" stroke="#111" stroke-width="1.2" stroke-dasharray="2.4 1.4" fill="none"/>
</g>
<clipPath id="dc0_112"><rect x="40" y="292.5" width="116.5" height="106.5"/></clipPath>
<g clip-path="url(#dc0_112)">
<g transform="translate(155.5 403.8)"><path d="M-88.23 12.4 L-88.7 8.39 L-88.99 4.35 L-89.1 0.31 L-89.02 -3.73 L-88.76 -7.77 L-88.32 -11.78 L-87.69 -15.78 L-86.89 -19.74 L-85.9 -23.66 L-84.74 -27.53 L-83.4 -31.35 L-81.89 -35.1 L-80.22 -38.78 L-78.38 -42.38 L-76.37 -45.89 L-74.21 -49.31 L-71.9 -52.62 L-69.44 -55.83 L-66.83 -58.92 L-64.09 -61.89 L-61.22 -64.74 L-58.22 -67.45 L-55.1 -70.02 L-51.87 -72.45 L-48.53 -74.73 L-45.09 -76.85 L-41.56 -78.82 L-37.94 -80.62 L-34.24 -82.26 L-30.47 -83.73 L-26.64 -85.02 L-22.76 -86.14 L-18.83 -87.09 L-14.86 -87.85 L-10.86 -88.44 L-6.84 -88.84 L-2.8 -89.06 L1.24 -89.09 L5.28 -88.94 L9.31 -88.61" stroke="#f1bfa8" stroke-width="4.5" fill="none"/></g>
<g transform="translate(151 395.9) scale(1 0.964)">
<path d="M-59.96 12.74 L-60.52 9.75 L-60.93 6.73 L-61.19 3.69 L-61.3 0.64 L-61.25 -2.41 L-61.06 -5.45 L-60.71 -8.48 L-60.21 -11.49 L-59.57 -14.47 L-58.78 -17.41 L-57.84 -20.31 L-56.76 -23.16 L-55.53 -25.95 L-54.17 -28.68 L-52.68 -31.34 L-51.06 -33.92 L-49.31 -36.42 L-47.44 -38.83 L-45.45 -41.14 L-43.35 -43.35 L-41.14 -45.45 L-38.83 -47.44 L-36.42 -49.31 L-33.92 -51.06 L-31.34 -52.68 L-28.68 -54.17 L-25.95 -55.53 L-23.16 -56.76 L-20.31 -57.84 L-17.41 -58.78 L-14.47 -59.57 L-11.49 -60.21 L-8.48 -60.71 L-5.45 -61.06 L-2.41 -61.25 L0.64 -61.3 L3.69 -61.19 L6.73 -60.93 L9.75 -60.52 L12.74 -59.96 L8.52 -40.1 L6.52 -40.48 L4.5 -40.75 L2.47 -40.93 L0.43 -41 L-1.61 -40.97 L-3.64 -40.84 L-5.67 -40.61 L-7.68 -40.27 L-9.68 -39.84 L-11.64 -39.31 L-13.58 -38.68 L-15.49 -37.96 L-17.36 -37.14 L-19.19 -36.23 L-20.96 -35.24 L-22.69 -34.15 L-24.36 -32.98 L-25.97 -31.73 L-27.51 -30.4 L-28.99 -28.99 L-30.4 -27.51 L-31.73 -25.97 L-32.98 -24.36 L-34.15 -22.69 L-35.24 -20.96 L-36.23 -19.19 L-37.14 -17.36 L-37.96 -15.49 L-38.68 -13.58 L-39.31 -11.64 L-39.84 -9.68 L-40.27 -7.68 L-40.61 -5.67 L-40.84 -3.64 L-40.97 -1.61 L-41 0.43 L-40.93 2.47 L-40.75 4.5 L-40.48 6.52 L-40.1 8.52 Z" fill="#8fb1de"/>
<path d="M-59.96 12.74 L-60.39 10.53 L-60.74 8.29 L-61 6.05 L-61.18 3.8 L-61.28 1.54 L-61.3 -0.72 L-61.23 -2.98 L-61.08 -5.24 L-51.31 -4.4 L-51.44 -2.5 L-51.5 -0.61 L-51.48 1.29 L-51.4 3.19 L-51.25 5.08 L-51.03 6.97 L-50.74 8.84 L-50.37 10.71 Z" fill="#d3d3d3"/>
<path d="M-40.22 -46.26 L-36.84 -49 L-33.27 -51.48 L-29.54 -53.71 L-25.66 -55.67 L-21.66 -57.35 L-17.54 -58.74 L-13.33 -59.83 L-9.06 -60.63 L-7.61 -50.93 L-11.2 -50.27 L-14.73 -49.35 L-18.19 -48.18 L-21.56 -46.77 L-24.82 -45.12 L-27.95 -43.25 L-30.95 -41.16 L-33.79 -38.87 Z" fill="#d3d3d3"/>
<path d="M-60.23 -11.38 L-59.28 -15.62 L-58.02 -19.78 L-56.47 -23.84 L-54.64 -27.78 L-52.54 -31.58 L-50.17 -35.23 L-47.55 -38.69 L-44.69 -41.96 L-37.54 -35.25 L-39.95 -32.51 L-42.15 -29.59 L-44.14 -26.53 L-45.91 -23.34 L-47.45 -20.03 L-48.75 -16.62 L-49.8 -13.12 L-50.6 -9.56 Z" fill="#a3a3a5"/>
<path d="M-2.89 -61.23 L-0.92 -61.29 L1.04 -61.29 L3.01 -61.23 L4.97 -61.1 L6.93 -60.91 L8.88 -60.65 L10.82 -60.34 L12.74 -59.96 L10.71 -50.37 L9.09 -50.69 L7.46 -50.96 L5.82 -51.17 L4.18 -51.33 L2.53 -51.44 L0.88 -51.49 L-0.78 -51.49 L-2.43 -51.44 Z" fill="#a3a3a5"/>
<path d="M-28.66 6.09 L-28.98 4.31 L-29.19 2.51 L-29.29 0.7 L-29.28 -1.11 L-29.15 -2.91 L-28.92 -4.71 L-28.57 -6.49 L-28.12 -8.24 L-27.55 -9.96 L-26.89 -11.64 L-26.12 -13.28 L-25.25 -14.87 L-24.28 -16.4 L-23.22 -17.87 L-22.07 -19.27 L-20.84 -20.6 L-19.53 -21.85 L-18.14 -23.01 L-16.68 -24.09 L-15.16 -25.07 L-13.59 -25.96 L-11.96 -26.75 L-10.28 -27.44 L-8.57 -28.02 L-6.4 -20.94 L-7.68 -20.51 L-8.94 -19.99 L-10.15 -19.4 L-11.33 -18.74 L-12.47 -18 L-13.56 -17.2 L-14.59 -16.33 L-15.58 -15.4 L-16.5 -14.4 L-17.36 -13.36 L-18.15 -12.26 L-18.87 -11.12 L-19.52 -9.93 L-20.1 -8.7 L-20.6 -7.45 L-21.02 -6.16 L-21.36 -4.85 L-21.62 -3.52 L-21.79 -2.18 L-21.88 -0.83 L-21.89 0.53 L-21.82 1.88 L-21.66 3.22 L-21.42 4.55 Z" fill="#ee2424"/>
</g></g>
<g transform="translate(0 112.5)">
<path d="M143.2 250.2 L152.8 259 L144 268.9 Z" fill="#ee2424"/>
<path d="M103.5 218.5 C103.52 219.67 103.68 223.17 103.6 225.5 C103.52 227.83 103.52 230.17 103 232.5 C102.48 234.83 101.73 236.95 100.5 239.5 C99.27 242.05 97.63 244.57 95.6 247.8 C93.57 251.03 90.57 256.2 88.3 258.9 C86.03 261.6 84.22 262.73 82 264 C79.78 265.27 77.42 265.83 75 266.5 C72.58 267.17 68.75 267.75 67.5 268" stroke="#f6d490" stroke-width="6.2" fill="none" stroke-linecap="butt"/>
<path d="M99.8 237.5 L105 237.5" stroke="#111" stroke-width="1.8"/>
<path d="M93.4 244.5 L98.6 244.5" stroke="#111" stroke-width="1.8"/>
<path d="M88.2 252.1 L93.4 252.1" stroke="#111" stroke-width="1.8"/>
<path d="M84.8 260.6 L90 260.6" stroke="#111" stroke-width="1.8"/>
<path d="M101.5 250.8 L106.7 250.8 M104.1 248.2 L104.1 253.4" stroke="#111" stroke-width="1.8"/>
<path d="M97.2 257.6 L102.4 257.6 M99.8 255 L99.8 260.2" stroke="#111" stroke-width="1.8"/>
<path d="M93.8 264.9 L99 264.9 M96.4 262.3 L96.4 267.5" stroke="#111" stroke-width="1.8"/>
<path d="M145.7 207.6 L156.9 207.6 L156.9 212.5 C156.9 217.5 154 222.2 151.3 222.2 C148.6 222.2 145.7 217.5 145.7 212.5 Z" fill="#c0622a"/>
<path d="M152.2 207.6 L152.2 183.6 L172.2 183.6 L172.2 207.7 M172.2 260 L172.2 286" stroke="#28376f" stroke-width="1.4" fill="none"/>
<rect x="163.2" y="207.7" width="20.3" height="52.3" fill="#fff" stroke="#111" stroke-width="1.3"/>
<text x="0" y="0" font-size="12" fill="#111" text-anchor="middle" font-weight="bold" transform="translate(177.9 233.3) rotate(-90)">Load</text>
<path d="M189.6 240.6 L189.6 224" stroke="#ee2424" stroke-width="3.2"/>
<path d="M185.6 224.9 L193.7 224.9 L189.6 219 Z" fill="#ee2424"/>
<path d="M186.7 246.2 L193.7 246.2 M190.2 242.7 L190.2 249.7" stroke="#111" stroke-width="2.1"/>
</g>
<text x="60.8" y="330" font-size="12.3" fill="#222" text-anchor="start" font-weight="bold" >(i)</text>
<g transform="translate(0 112.5)">
<path d="M63.46 259.12 L64.12 257.3 L64.81 255.49 L65.54 253.7 L66.31 251.92 L67.1 250.16 L67.94 248.42 L68.81 246.69 L69.71 244.98 L70.64 243.28 L71.61 241.61 L72.61 239.96 L73.65 238.32 L74.72 236.71 L75.82 235.12 L76.95 233.55 L78.11 232 L79.3 230.48 L80.52 228.98 L81.77 227.5 L83.05 226.05 L84.36 224.63 L85.7 223.23 L87.06 221.86 L88.45 220.51 L89.87 219.2 L91.31 217.91" stroke="#e8302a" stroke-width="1.4" fill="none"/>
<path d="M94.27 215.42 L91.16 221.04 L88.2 217.52 Z" fill="#e8302a"/>
<path d="M62.26 262.79 L61.94 256.38 L66.31 257.81 Z" fill="#e8302a"/>
<path d="M95 211.8 L102.1 221.1" stroke="#111" stroke-width="1.2" stroke-dasharray="2.4 1.4" fill="none"/>
<path d="M60 265.4 L70 268.2" stroke="#111" stroke-width="1.2" stroke-dasharray="2.4 1.4" fill="none"/>
</g>
<clipPath id="dc166_0"><rect x="206" y="180" width="116.5" height="106.5"/></clipPath>
<g clip-path="url(#dc166_0)">
<g transform="translate(321.5 291.3)"><path d="M-88.23 12.4 L-88.7 8.39 L-88.99 4.35 L-89.1 0.31 L-89.02 -3.73 L-88.76 -7.77 L-88.32 -11.78 L-87.69 -15.78 L-86.89 -19.74 L-85.9 -23.66 L-84.74 -27.53 L-83.4 -31.35 L-81.89 -35.1 L-80.22 -38.78 L-78.38 -42.38 L-76.37 -45.89 L-74.21 -49.31 L-71.9 -52.62 L-69.44 -55.83 L-66.83 -58.92 L-64.09 -61.89 L-61.22 -64.74 L-58.22 -67.45 L-55.1 -70.02 L-51.87 -72.45 L-48.53 -74.73 L-45.09 -76.85 L-41.56 -78.82 L-37.94 -80.62 L-34.24 -82.26 L-30.47 -83.73 L-26.64 -85.02 L-22.76 -86.14 L-18.83 -87.09 L-14.86 -87.85 L-10.86 -88.44 L-6.84 -88.84 L-2.8 -89.06 L1.24 -89.09 L5.28 -88.94 L9.31 -88.61" stroke="#f1bfa8" stroke-width="4.5" fill="none"/></g>
<g transform="translate(317 283.4) scale(1 0.964)">
<path d="M-59.96 12.74 L-60.52 9.75 L-60.93 6.73 L-61.19 3.69 L-61.3 0.64 L-61.25 -2.41 L-61.06 -5.45 L-60.71 -8.48 L-60.21 -11.49 L-59.57 -14.47 L-58.78 -17.41 L-57.84 -20.31 L-56.76 -23.16 L-55.53 -25.95 L-54.17 -28.68 L-52.68 -31.34 L-51.06 -33.92 L-49.31 -36.42 L-47.44 -38.83 L-45.45 -41.14 L-43.35 -43.35 L-41.14 -45.45 L-38.83 -47.44 L-36.42 -49.31 L-33.92 -51.06 L-31.34 -52.68 L-28.68 -54.17 L-25.95 -55.53 L-23.16 -56.76 L-20.31 -57.84 L-17.41 -58.78 L-14.47 -59.57 L-11.49 -60.21 L-8.48 -60.71 L-5.45 -61.06 L-2.41 -61.25 L0.64 -61.3 L3.69 -61.19 L6.73 -60.93 L9.75 -60.52 L12.74 -59.96 L8.52 -40.1 L6.52 -40.48 L4.5 -40.75 L2.47 -40.93 L0.43 -41 L-1.61 -40.97 L-3.64 -40.84 L-5.67 -40.61 L-7.68 -40.27 L-9.68 -39.84 L-11.64 -39.31 L-13.58 -38.68 L-15.49 -37.96 L-17.36 -37.14 L-19.19 -36.23 L-20.96 -35.24 L-22.69 -34.15 L-24.36 -32.98 L-25.97 -31.73 L-27.51 -30.4 L-28.99 -28.99 L-30.4 -27.51 L-31.73 -25.97 L-32.98 -24.36 L-34.15 -22.69 L-35.24 -20.96 L-36.23 -19.19 L-37.14 -17.36 L-37.96 -15.49 L-38.68 -13.58 L-39.31 -11.64 L-39.84 -9.68 L-40.27 -7.68 L-40.61 -5.67 L-40.84 -3.64 L-40.97 -1.61 L-41 0.43 L-40.93 2.47 L-40.75 4.5 L-40.48 6.52 L-40.1 8.52 Z" fill="#8fb1de"/>
<path d="M-59.96 12.74 L-60.54 9.63 L-60.96 6.49 L-61.21 3.33 L-61.3 0.16 L-61.23 -3.01 L-60.99 -6.17 L-60.59 -9.31 L-60.03 -12.43 L-50.43 -10.44 L-50.9 -7.82 L-51.24 -5.18 L-51.44 -2.53 L-51.5 0.13 L-51.42 2.8 L-51.21 5.45 L-50.86 8.09 L-50.37 10.71 Z" fill="#d3d3d3"/>
<path d="M-34.46 -50.7 L-30.78 -53.01 L-26.94 -55.06 L-22.98 -56.83 L-18.89 -58.32 L-14.71 -59.51 L-10.46 -60.4 L-6.15 -60.99 L-1.82 -61.27 L-1.53 -51.48 L-5.17 -51.24 L-8.79 -50.74 L-12.36 -49.99 L-15.87 -48.99 L-19.3 -47.75 L-22.64 -46.26 L-25.86 -44.54 L-28.95 -42.59 Z" fill="#d3d3d3"/>
<path d="M-58.46 -18.43 L-57.01 -22.53 L-55.27 -26.51 L-53.25 -30.36 L-50.97 -34.06 L-48.43 -37.58 L-45.64 -40.92 L-42.63 -44.05 L-39.4 -46.96 L-33.1 -39.45 L-35.82 -37.01 L-38.35 -34.38 L-40.69 -31.57 L-42.82 -28.61 L-44.74 -25.51 L-46.43 -22.27 L-47.9 -18.93 L-49.12 -15.49 Z" fill="#a3a3a5"/>
<path d="M4.38 -61.14 L5.44 -61.06 L6.49 -60.96 L7.54 -60.83 L8.58 -60.7 L9.63 -60.54 L10.67 -60.36 L11.71 -60.17 L12.74 -59.96 L10.71 -50.37 L9.84 -50.55 L8.97 -50.71 L8.09 -50.86 L7.21 -50.99 L6.33 -51.11 L5.45 -51.21 L4.57 -51.3 L3.68 -51.37 Z" fill="#a3a3a5"/>
<path d="M-28.66 6.09 L-28.98 4.31 L-29.19 2.51 L-29.29 0.7 L-29.28 -1.11 L-29.15 -2.91 L-28.92 -4.71 L-28.57 -6.49 L-28.12 -8.24 L-27.55 -9.96 L-26.89 -11.64 L-26.12 -13.28 L-25.25 -14.87 L-24.28 -16.4 L-23.22 -17.87 L-22.07 -19.27 L-20.84 -20.6 L-19.53 -21.85 L-18.14 -23.01 L-16.68 -24.09 L-15.16 -25.07 L-13.59 -25.96 L-11.96 -26.75 L-10.28 -27.44 L-8.57 -28.02 L-6.4 -20.94 L-7.68 -20.51 L-8.94 -19.99 L-10.15 -19.4 L-11.33 -18.74 L-12.47 -18 L-13.56 -17.2 L-14.59 -16.33 L-15.58 -15.4 L-16.5 -14.4 L-17.36 -13.36 L-18.15 -12.26 L-18.87 -11.12 L-19.52 -9.93 L-20.1 -8.7 L-20.6 -7.45 L-21.02 -6.16 L-21.36 -4.85 L-21.62 -3.52 L-21.79 -2.18 L-21.88 -0.83 L-21.89 0.53 L-21.82 1.88 L-21.66 3.22 L-21.42 4.55 Z" fill="#ee2424"/>
</g></g>
<g transform="translate(166 0)">
<path d="M143.2 250.2 L152.8 259 L144 268.9 Z" fill="#ee2424"/>
<path d="M72.6 262.3 C74.32 261.9 79.83 261.15 82.9 259.9 C85.97 258.65 88.43 257.05 91 254.8 C93.57 252.55 95.6 249.5 98.3 246.4 C101 243.3 104.55 239.07 107.2 236.2 C109.85 233.33 112.23 231.27 114.2 229.2 C116.17 227.13 118.32 225.43 119 223.8 C119.68 222.17 119.8 220.2 118.3 219.4 C116.8 218.6 112.97 218.5 110 219 C107.03 219.5 102.92 221.33 100.5 222.4 C98.08 223.47 96.33 224.9 95.5 225.4" stroke="#f6d490" stroke-width="5.4" fill="none" stroke-linecap="round"/>
<path d="M112.2 229.8 L117.4 229.8" stroke="#111" stroke-width="1.8"/>
<path d="M103.7 237 L108.9 237" stroke="#111" stroke-width="1.8"/>
<path d="M96 246 L101.2 246" stroke="#111" stroke-width="1.8"/>
<path d="M88.4 255.6 L93.6 255.6" stroke="#111" stroke-width="1.8"/>
<path d="M119.7 236.1 L124.9 236.1 M122.3 233.5 L122.3 238.7" stroke="#111" stroke-width="1.8"/>
<path d="M108.8 245 L114 245 M111.4 242.4 L111.4 247.6" stroke="#111" stroke-width="1.8"/>
<path d="M103.7 250.7 L108.9 250.7 M106.3 248.1 L106.3 253.3" stroke="#111" stroke-width="1.8"/>
<path d="M98.5 257.5 L103.7 257.5 M101.1 254.9 L101.1 260.1" stroke="#111" stroke-width="1.8"/>
<path d="M145.7 207.6 L156.9 207.6 L156.9 212.5 C156.9 217.5 154 222.2 151.3 222.2 C148.6 222.2 145.7 217.5 145.7 212.5 Z" fill="#c0622a"/>
<path d="M152.2 207.6 L152.2 183.6 L172.2 183.6 L172.2 207.7 M172.2 260 L172.2 286" stroke="#28376f" stroke-width="1.4" fill="none"/>
<rect x="163.2" y="207.7" width="20.3" height="52.3" fill="#fff" stroke="#111" stroke-width="1.3"/>
<text x="0" y="0" font-size="12" fill="#111" text-anchor="middle" font-weight="bold" transform="translate(177.9 233.3) rotate(-90)">Load</text>
</g>
<text x="225.8" y="205.5" font-size="12.3" fill="#222" text-anchor="start" font-weight="bold" >(ii)</text>
<clipPath id="dc166_112"><rect x="206" y="292.5" width="116.5" height="106.5"/></clipPath>
<g clip-path="url(#dc166_112)">
<g transform="translate(321.5 403.8)"><path d="M-88.23 12.4 L-88.7 8.39 L-88.99 4.35 L-89.1 0.31 L-89.02 -3.73 L-88.76 -7.77 L-88.32 -11.78 L-87.69 -15.78 L-86.89 -19.74 L-85.9 -23.66 L-84.74 -27.53 L-83.4 -31.35 L-81.89 -35.1 L-80.22 -38.78 L-78.38 -42.38 L-76.37 -45.89 L-74.21 -49.31 L-71.9 -52.62 L-69.44 -55.83 L-66.83 -58.92 L-64.09 -61.89 L-61.22 -64.74 L-58.22 -67.45 L-55.1 -70.02 L-51.87 -72.45 L-48.53 -74.73 L-45.09 -76.85 L-41.56 -78.82 L-37.94 -80.62 L-34.24 -82.26 L-30.47 -83.73 L-26.64 -85.02 L-22.76 -86.14 L-18.83 -87.09 L-14.86 -87.85 L-10.86 -88.44 L-6.84 -88.84 L-2.8 -89.06 L1.24 -89.09 L5.28 -88.94 L9.31 -88.61" stroke="#f1bfa8" stroke-width="4.5" fill="none"/></g>
<g transform="translate(317 395.9) scale(1 0.964)">
<path d="M-59.96 12.74 L-60.52 9.75 L-60.93 6.73 L-61.19 3.69 L-61.3 0.64 L-61.25 -2.41 L-61.06 -5.45 L-60.71 -8.48 L-60.21 -11.49 L-59.57 -14.47 L-58.78 -17.41 L-57.84 -20.31 L-56.76 -23.16 L-55.53 -25.95 L-54.17 -28.68 L-52.68 -31.34 L-51.06 -33.92 L-49.31 -36.42 L-47.44 -38.83 L-45.45 -41.14 L-43.35 -43.35 L-41.14 -45.45 L-38.83 -47.44 L-36.42 -49.31 L-33.92 -51.06 L-31.34 -52.68 L-28.68 -54.17 L-25.95 -55.53 L-23.16 -56.76 L-20.31 -57.84 L-17.41 -58.78 L-14.47 -59.57 L-11.49 -60.21 L-8.48 -60.71 L-5.45 -61.06 L-2.41 -61.25 L0.64 -61.3 L3.69 -61.19 L6.73 -60.93 L9.75 -60.52 L12.74 -59.96 L8.52 -40.1 L6.52 -40.48 L4.5 -40.75 L2.47 -40.93 L0.43 -41 L-1.61 -40.97 L-3.64 -40.84 L-5.67 -40.61 L-7.68 -40.27 L-9.68 -39.84 L-11.64 -39.31 L-13.58 -38.68 L-15.49 -37.96 L-17.36 -37.14 L-19.19 -36.23 L-20.96 -35.24 L-22.69 -34.15 L-24.36 -32.98 L-25.97 -31.73 L-27.51 -30.4 L-28.99 -28.99 L-30.4 -27.51 L-31.73 -25.97 L-32.98 -24.36 L-34.15 -22.69 L-35.24 -20.96 L-36.23 -19.19 L-37.14 -17.36 L-37.96 -15.49 L-38.68 -13.58 L-39.31 -11.64 L-39.84 -9.68 L-40.27 -7.68 L-40.61 -5.67 L-40.84 -3.64 L-40.97 -1.61 L-41 0.43 L-40.93 2.47 L-40.75 4.5 L-40.48 6.52 L-40.1 8.52 Z" fill="#8fb1de"/>
<path d="M-59.96 12.74 L-60.53 9.68 L-60.94 6.59 L-61.2 3.49 L-61.3 0.37 L-61.24 -2.74 L-61.02 -5.85 L-60.64 -8.94 L-60.11 -12.01 L-50.5 -10.09 L-50.95 -7.51 L-51.27 -4.91 L-51.45 -2.3 L-51.5 0.31 L-51.42 2.93 L-51.2 5.54 L-50.85 8.13 L-50.37 10.71 Z" fill="#d3d3d3"/>
<path d="M-34.81 -50.46 L-31.15 -52.8 L-27.33 -54.87 L-23.37 -56.67 L-19.3 -58.18 L-15.13 -59.4 L-10.88 -60.33 L-6.58 -60.95 L-2.25 -61.26 L-1.89 -51.47 L-5.53 -51.2 L-9.14 -50.68 L-12.71 -49.91 L-16.21 -48.88 L-19.64 -47.61 L-22.96 -46.1 L-26.17 -44.36 L-29.24 -42.39 Z" fill="#d3d3d3"/>
<path d="M-58.59 -18.02 L-57.17 -22.13 L-55.45 -26.12 L-53.46 -29.99 L-51.21 -33.7 L-48.69 -37.24 L-45.93 -40.6 L-42.94 -43.75 L-39.73 -46.68 L-33.38 -39.22 L-36.07 -36.76 L-38.59 -34.11 L-40.91 -31.29 L-43.02 -28.31 L-44.92 -25.19 L-46.59 -21.95 L-48.03 -18.59 L-49.22 -15.14 Z" fill="#a3a3a5"/>
<path d="M3.96 -61.17 L5.06 -61.09 L6.17 -60.99 L7.27 -60.87 L8.37 -60.73 L9.47 -60.56 L10.57 -60.38 L11.66 -60.18 L12.74 -59.96 L10.71 -50.37 L9.79 -50.56 L8.88 -50.73 L7.96 -50.88 L7.03 -51.02 L6.11 -51.14 L5.18 -51.24 L4.25 -51.32 L3.32 -51.39 Z" fill="#a3a3a5"/>
<path d="M-28.66 6.09 L-28.98 4.31 L-29.19 2.51 L-29.29 0.7 L-29.28 -1.11 L-29.15 -2.91 L-28.92 -4.71 L-28.57 -6.49 L-28.12 -8.24 L-27.55 -9.96 L-26.89 -11.64 L-26.12 -13.28 L-25.25 -14.87 L-24.28 -16.4 L-23.22 -17.87 L-22.07 -19.27 L-20.84 -20.6 L-19.53 -21.85 L-18.14 -23.01 L-16.68 -24.09 L-15.16 -25.07 L-13.59 -25.96 L-11.96 -26.75 L-10.28 -27.44 L-8.57 -28.02 L-6.4 -20.94 L-7.68 -20.51 L-8.94 -19.99 L-10.15 -19.4 L-11.33 -18.74 L-12.47 -18 L-13.56 -17.2 L-14.59 -16.33 L-15.58 -15.4 L-16.5 -14.4 L-17.36 -13.36 L-18.15 -12.26 L-18.87 -11.12 L-19.52 -9.93 L-20.1 -8.7 L-20.6 -7.45 L-21.02 -6.16 L-21.36 -4.85 L-21.62 -3.52 L-21.79 -2.18 L-21.88 -0.83 L-21.89 0.53 L-21.82 1.88 L-21.66 3.22 L-21.42 4.55 Z" fill="#ee2424"/>
</g></g>
<g transform="translate(166 112.5)">
<path d="M143.2 250.2 L152.8 259 L144 268.9 Z" fill="#ee2424"/>
<path d="M103.5 218.5 C103.52 219.67 103.68 223.17 103.6 225.5 C103.52 227.83 103.52 230.17 103 232.5 C102.48 234.83 101.73 236.95 100.5 239.5 C99.27 242.05 97.63 244.57 95.6 247.8 C93.57 251.03 90.57 256.2 88.3 258.9 C86.03 261.6 84.22 262.73 82 264 C79.78 265.27 77.42 265.83 75 266.5 C72.58 267.17 68.75 267.75 67.5 268" stroke="#f6d490" stroke-width="6.2" fill="none" stroke-linecap="butt"/>
<path d="M99.8 237.5 L105 237.5" stroke="#111" stroke-width="1.8"/>
<path d="M93.4 244.5 L98.6 244.5" stroke="#111" stroke-width="1.8"/>
<path d="M88.2 252.1 L93.4 252.1" stroke="#111" stroke-width="1.8"/>
<path d="M84.8 260.6 L90 260.6" stroke="#111" stroke-width="1.8"/>
<path d="M108.1 244.6 L113.3 244.6 M110.7 242 L110.7 247.2" stroke="#111" stroke-width="1.8"/>
<path d="M103.1 251.1 L108.3 251.1 M105.7 248.5 L105.7 253.7" stroke="#111" stroke-width="1.8"/>
<path d="M98.8 257.5 L104 257.5 M101.4 254.9 L101.4 260.1" stroke="#111" stroke-width="1.8"/>
<path d="M94.5 264.6 L99.7 264.6 M97.1 262 L97.1 267.2" stroke="#111" stroke-width="1.8"/>
<path d="M145.7 207.6 L156.9 207.6 L156.9 212.5 C156.9 217.5 154 222.2 151.3 222.2 C148.6 222.2 145.7 217.5 145.7 212.5 Z" fill="#c0622a"/>
<path d="M152.2 207.6 L152.2 183.6 L172.2 183.6 L172.2 207.7 M172.2 260 L172.2 286" stroke="#28376f" stroke-width="1.4" fill="none"/>
<rect x="163.2" y="207.7" width="20.3" height="52.3" fill="#fff" stroke="#111" stroke-width="1.3"/>
<text x="0" y="0" font-size="12" fill="#111" text-anchor="middle" font-weight="bold" transform="translate(177.9 233.3) rotate(-90)">Load</text>
</g>
<text x="225.6" y="330" font-size="12.3" fill="#222" text-anchor="start" font-weight="bold" >(ii)</text>
<clipPath id="dc335_0"><rect x="375" y="180" width="116.5" height="106.5"/></clipPath>
<g clip-path="url(#dc335_0)">
<g transform="translate(490.5 291.3)"><path d="M-88.23 12.4 L-88.7 8.39 L-88.99 4.35 L-89.1 0.31 L-89.02 -3.73 L-88.76 -7.77 L-88.32 -11.78 L-87.69 -15.78 L-86.89 -19.74 L-85.9 -23.66 L-84.74 -27.53 L-83.4 -31.35 L-81.89 -35.1 L-80.22 -38.78 L-78.38 -42.38 L-76.37 -45.89 L-74.21 -49.31 L-71.9 -52.62 L-69.44 -55.83 L-66.83 -58.92 L-64.09 -61.89 L-61.22 -64.74 L-58.22 -67.45 L-55.1 -70.02 L-51.87 -72.45 L-48.53 -74.73 L-45.09 -76.85 L-41.56 -78.82 L-37.94 -80.62 L-34.24 -82.26 L-30.47 -83.73 L-26.64 -85.02 L-22.76 -86.14 L-18.83 -87.09 L-14.86 -87.85 L-10.86 -88.44 L-6.84 -88.84 L-2.8 -89.06 L1.24 -89.09 L5.28 -88.94 L9.31 -88.61" stroke="#f1bfa8" stroke-width="4.5" fill="none"/></g>
<g transform="translate(486 283.4) scale(1 0.964)">
<path d="M-59.96 12.74 L-60.52 9.75 L-60.93 6.73 L-61.19 3.69 L-61.3 0.64 L-61.25 -2.41 L-61.06 -5.45 L-60.71 -8.48 L-60.21 -11.49 L-59.57 -14.47 L-58.78 -17.41 L-57.84 -20.31 L-56.76 -23.16 L-55.53 -25.95 L-54.17 -28.68 L-52.68 -31.34 L-51.06 -33.92 L-49.31 -36.42 L-47.44 -38.83 L-45.45 -41.14 L-43.35 -43.35 L-41.14 -45.45 L-38.83 -47.44 L-36.42 -49.31 L-33.92 -51.06 L-31.34 -52.68 L-28.68 -54.17 L-25.95 -55.53 L-23.16 -56.76 L-20.31 -57.84 L-17.41 -58.78 L-14.47 -59.57 L-11.49 -60.21 L-8.48 -60.71 L-5.45 -61.06 L-2.41 -61.25 L0.64 -61.3 L3.69 -61.19 L6.73 -60.93 L9.75 -60.52 L12.74 -59.96 L8.52 -40.1 L6.52 -40.48 L4.5 -40.75 L2.47 -40.93 L0.43 -41 L-1.61 -40.97 L-3.64 -40.84 L-5.67 -40.61 L-7.68 -40.27 L-9.68 -39.84 L-11.64 -39.31 L-13.58 -38.68 L-15.49 -37.96 L-17.36 -37.14 L-19.19 -36.23 L-20.96 -35.24 L-22.69 -34.15 L-24.36 -32.98 L-25.97 -31.73 L-27.51 -30.4 L-28.99 -28.99 L-30.4 -27.51 L-31.73 -25.97 L-32.98 -24.36 L-34.15 -22.69 L-35.24 -20.96 L-36.23 -19.19 L-37.14 -17.36 L-37.96 -15.49 L-38.68 -13.58 L-39.31 -11.64 L-39.84 -9.68 L-40.27 -7.68 L-40.61 -5.67 L-40.84 -3.64 L-40.97 -1.61 L-41 0.43 L-40.93 2.47 L-40.75 4.5 L-40.48 6.52 L-40.1 8.52 Z" fill="#8fb1de"/>
<path d="M-59.96 12.74 L-60.68 8.66 L-61.13 4.54 L-61.3 0.4 L-61.19 -3.74 L-60.79 -7.87 L-60.12 -11.96 L-59.18 -15.99 L-57.96 -19.96 L-48.69 -16.77 L-49.72 -13.44 L-50.51 -10.05 L-51.07 -6.61 L-51.4 -3.14 L-51.5 0.34 L-51.36 3.82 L-50.98 7.28 L-50.37 10.71 Z" fill="#d3d3d3"/>
<path d="M-27.73 -54.67 L-23.79 -56.49 L-19.73 -58.04 L-15.57 -59.29 L-11.33 -60.24 L-7.03 -60.9 L-2.7 -61.24 L1.64 -61.28 L5.98 -61.01 L5.03 -51.25 L1.38 -51.48 L-2.27 -51.45 L-5.91 -51.16 L-9.52 -50.61 L-13.08 -49.81 L-16.58 -48.76 L-19.99 -47.46 L-23.3 -45.93 Z" fill="#d3d3d3"/>
<path d="M-55.65 -25.71 L-53.69 -29.59 L-51.45 -33.32 L-48.96 -36.88 L-46.23 -40.26 L-43.26 -43.43 L-40.07 -46.39 L-36.69 -49.11 L-33.12 -51.58 L-27.82 -43.34 L-30.82 -41.26 L-33.67 -38.97 L-36.34 -36.49 L-38.84 -33.82 L-41.14 -30.98 L-43.23 -27.99 L-45.1 -24.86 L-46.75 -21.6 Z" fill="#a3a3a5"/>
<path d="M12.12 -60.09 L12.2 -60.07 L12.27 -60.06 L12.35 -60.04 L12.43 -60.03 L12.51 -60.01 L12.59 -59.99 L12.67 -59.98 L12.74 -59.96 L10.71 -50.37 L10.64 -50.39 L10.58 -50.4 L10.51 -50.42 L10.44 -50.43 L10.38 -50.44 L10.31 -50.46 L10.25 -50.47 L10.18 -50.48 Z" fill="#a3a3a5"/>
<path d="M-28.66 6.09 L-28.98 4.31 L-29.19 2.51 L-29.29 0.7 L-29.28 -1.11 L-29.15 -2.91 L-28.92 -4.71 L-28.57 -6.49 L-28.12 -8.24 L-27.55 -9.96 L-26.89 -11.64 L-26.12 -13.28 L-25.25 -14.87 L-24.28 -16.4 L-23.22 -17.87 L-22.07 -19.27 L-20.84 -20.6 L-19.53 -21.85 L-18.14 -23.01 L-16.68 -24.09 L-15.16 -25.07 L-13.59 -25.96 L-11.96 -26.75 L-10.28 -27.44 L-8.57 -28.02 L-6.4 -20.94 L-7.68 -20.51 L-8.94 -19.99 L-10.15 -19.4 L-11.33 -18.74 L-12.47 -18 L-13.56 -17.2 L-14.59 -16.33 L-15.58 -15.4 L-16.5 -14.4 L-17.36 -13.36 L-18.15 -12.26 L-18.87 -11.12 L-19.52 -9.93 L-20.1 -8.7 L-20.6 -7.45 L-21.02 -6.16 L-21.36 -4.85 L-21.62 -3.52 L-21.79 -2.18 L-21.88 -0.83 L-21.89 0.53 L-21.82 1.88 L-21.66 3.22 L-21.42 4.55 Z" fill="#ee2424"/>
</g></g>
<g transform="translate(335 0)">
<path d="M143.2 250.2 L152.8 259 L144 268.9 Z" fill="#ee2424"/>
<path d="M72.6 262.3 C74.32 261.9 79.83 261.15 82.9 259.9 C85.97 258.65 88.43 257.05 91 254.8 C93.57 252.55 95.6 249.5 98.3 246.4 C101 243.3 104.55 239.07 107.2 236.2 C109.85 233.33 112.23 231.27 114.2 229.2 C116.17 227.13 118.32 225.43 119 223.8 C119.68 222.17 119.8 220.2 118.3 219.4 C116.8 218.6 112.97 218.5 110 219 C107.03 219.5 102.92 221.33 100.5 222.4 C98.08 223.47 96.33 224.9 95.5 225.4" stroke="#f6d490" stroke-width="5.4" fill="none" stroke-linecap="round"/>
<path d="M112.2 229.8 L117.4 229.8" stroke="#111" stroke-width="1.8"/>
<path d="M103.7 237 L108.9 237" stroke="#111" stroke-width="1.8"/>
<path d="M96 246 L101.2 246" stroke="#111" stroke-width="1.8"/>
<path d="M88.4 255.6 L93.6 255.6" stroke="#111" stroke-width="1.8"/>
<path d="M112.3 241.3 L117.5 241.3 M114.9 238.7 L114.9 243.9" stroke="#111" stroke-width="1.8"/>
<path d="M104.3 248.1 L109.5 248.1 M106.9 245.5 L106.9 250.7" stroke="#111" stroke-width="1.8"/>
<path d="M98 255.6 L103.2 255.6 M100.6 253 L100.6 258.2" stroke="#111" stroke-width="1.8"/>
<path d="M145.7 207.6 L156.9 207.6 L156.9 212.5 C156.9 217.5 154 222.2 151.3 222.2 C148.6 222.2 145.7 217.5 145.7 212.5 Z" fill="#c0622a"/>
<path d="M152.2 207.6 L152.2 183.6 L172.2 183.6 L172.2 207.7 M172.2 260 L172.2 286" stroke="#28376f" stroke-width="1.4" fill="none"/>
<rect x="163.2" y="207.7" width="20.3" height="52.3" fill="#fff" stroke="#111" stroke-width="1.3"/>
<text x="0" y="0" font-size="12" fill="#111" text-anchor="middle" font-weight="bold" transform="translate(177.9 233.3) rotate(-90)">Load</text>
<path d="M188.8 228 L188.8 245" stroke="#2a5cbf" stroke-width="3.2"/>
<path d="M184.8 244.2 L192.9 244.2 L188.8 249.5 Z" fill="#2a5cbf"/>
<path d="M185.3 221.9 L192.3 221.9 M188.8 218.4 L188.8 225.4" stroke="#111" stroke-width="2.1"/>
</g>
<text x="390.4" y="205.5" font-size="12.3" fill="#222" text-anchor="start" font-weight="bold" >(iii)</text>
<clipPath id="dc335_112"><rect x="375" y="292.5" width="116.5" height="106.5"/></clipPath>
<g clip-path="url(#dc335_112)">
<g transform="translate(490.5 403.8)"><path d="M-88.23 12.4 L-88.7 8.39 L-88.99 4.35 L-89.1 0.31 L-89.02 -3.73 L-88.76 -7.77 L-88.32 -11.78 L-87.69 -15.78 L-86.89 -19.74 L-85.9 -23.66 L-84.74 -27.53 L-83.4 -31.35 L-81.89 -35.1 L-80.22 -38.78 L-78.38 -42.38 L-76.37 -45.89 L-74.21 -49.31 L-71.9 -52.62 L-69.44 -55.83 L-66.83 -58.92 L-64.09 -61.89 L-61.22 -64.74 L-58.22 -67.45 L-55.1 -70.02 L-51.87 -72.45 L-48.53 -74.73 L-45.09 -76.85 L-41.56 -78.82 L-37.94 -80.62 L-34.24 -82.26 L-30.47 -83.73 L-26.64 -85.02 L-22.76 -86.14 L-18.83 -87.09 L-14.86 -87.85 L-10.86 -88.44 L-6.84 -88.84 L-2.8 -89.06 L1.24 -89.09 L5.28 -88.94 L9.31 -88.61" stroke="#f1bfa8" stroke-width="4.5" fill="none"/></g>
<g transform="translate(486 395.9) scale(1 0.964)">
<path d="M-59.96 12.74 L-60.52 9.75 L-60.93 6.73 L-61.19 3.69 L-61.3 0.64 L-61.25 -2.41 L-61.06 -5.45 L-60.71 -8.48 L-60.21 -11.49 L-59.57 -14.47 L-58.78 -17.41 L-57.84 -20.31 L-56.76 -23.16 L-55.53 -25.95 L-54.17 -28.68 L-52.68 -31.34 L-51.06 -33.92 L-49.31 -36.42 L-47.44 -38.83 L-45.45 -41.14 L-43.35 -43.35 L-41.14 -45.45 L-38.83 -47.44 L-36.42 -49.31 L-33.92 -51.06 L-31.34 -52.68 L-28.68 -54.17 L-25.95 -55.53 L-23.16 -56.76 L-20.31 -57.84 L-17.41 -58.78 L-14.47 -59.57 L-11.49 -60.21 L-8.48 -60.71 L-5.45 -61.06 L-2.41 -61.25 L0.64 -61.3 L3.69 -61.19 L6.73 -60.93 L9.75 -60.52 L12.74 -59.96 L8.52 -40.1 L6.52 -40.48 L4.5 -40.75 L2.47 -40.93 L0.43 -41 L-1.61 -40.97 L-3.64 -40.84 L-5.67 -40.61 L-7.68 -40.27 L-9.68 -39.84 L-11.64 -39.31 L-13.58 -38.68 L-15.49 -37.96 L-17.36 -37.14 L-19.19 -36.23 L-20.96 -35.24 L-22.69 -34.15 L-24.36 -32.98 L-25.97 -31.73 L-27.51 -30.4 L-28.99 -28.99 L-30.4 -27.51 L-31.73 -25.97 L-32.98 -24.36 L-34.15 -22.69 L-35.24 -20.96 L-36.23 -19.19 L-37.14 -17.36 L-37.96 -15.49 L-38.68 -13.58 L-39.31 -11.64 L-39.84 -9.68 L-40.27 -7.68 L-40.61 -5.67 L-40.84 -3.64 L-40.97 -1.61 L-41 0.43 L-40.93 2.47 L-40.75 4.5 L-40.48 6.52 L-40.1 8.52 Z" fill="#8fb1de"/>
<path d="M-59.96 12.74 L-60.66 8.85 L-61.1 4.92 L-61.29 0.96 L-61.23 -2.99 L-60.91 -6.94 L-60.33 -10.86 L-59.5 -14.73 L-58.43 -18.54 L-49.09 -15.57 L-49.99 -12.37 L-50.69 -9.12 L-51.17 -5.83 L-51.44 -2.52 L-51.49 0.81 L-51.33 4.13 L-50.96 7.43 L-50.37 10.71 Z" fill="#d3d3d3"/>
<path d="M-29.06 -53.97 L-25.16 -55.9 L-21.14 -57.54 L-17.01 -58.89 L-12.8 -59.95 L-8.52 -60.71 L-4.2 -61.16 L0.15 -61.3 L4.49 -61.14 L3.77 -51.36 L0.12 -51.5 L-3.53 -51.38 L-7.16 -51 L-10.75 -50.37 L-14.29 -49.48 L-17.76 -48.34 L-21.14 -46.96 L-24.42 -45.34 Z" fill="#d3d3d3"/>
<path d="M-56.26 -24.35 L-54.39 -28.27 L-52.25 -32.05 L-49.85 -35.67 L-47.2 -39.12 L-44.31 -42.36 L-41.2 -45.39 L-37.88 -48.2 L-34.37 -50.76 L-28.87 -42.65 L-31.82 -40.49 L-34.61 -38.14 L-37.23 -35.59 L-39.65 -32.86 L-41.88 -29.97 L-43.9 -26.93 L-45.7 -23.75 L-47.26 -20.45 Z" fill="#a3a3a5"/>
<path d="M10.64 -60.37 L10.91 -60.32 L11.17 -60.27 L11.43 -60.22 L11.7 -60.17 L11.96 -60.12 L12.22 -60.07 L12.48 -60.02 L12.74 -59.96 L10.71 -50.37 L10.49 -50.42 L10.27 -50.47 L10.05 -50.51 L9.83 -50.55 L9.61 -50.6 L9.39 -50.64 L9.16 -50.68 L8.94 -50.72 Z" fill="#a3a3a5"/>
<path d="M-28.66 6.09 L-28.98 4.31 L-29.19 2.51 L-29.29 0.7 L-29.28 -1.11 L-29.15 -2.91 L-28.92 -4.71 L-28.57 -6.49 L-28.12 -8.24 L-27.55 -9.96 L-26.89 -11.64 L-26.12 -13.28 L-25.25 -14.87 L-24.28 -16.4 L-23.22 -17.87 L-22.07 -19.27 L-20.84 -20.6 L-19.53 -21.85 L-18.14 -23.01 L-16.68 -24.09 L-15.16 -25.07 L-13.59 -25.96 L-11.96 -26.75 L-10.28 -27.44 L-8.57 -28.02 L-6.4 -20.94 L-7.68 -20.51 L-8.94 -19.99 L-10.15 -19.4 L-11.33 -18.74 L-12.47 -18 L-13.56 -17.2 L-14.59 -16.33 L-15.58 -15.4 L-16.5 -14.4 L-17.36 -13.36 L-18.15 -12.26 L-18.87 -11.12 L-19.52 -9.93 L-20.1 -8.7 L-20.6 -7.45 L-21.02 -6.16 L-21.36 -4.85 L-21.62 -3.52 L-21.79 -2.18 L-21.88 -0.83 L-21.89 0.53 L-21.82 1.88 L-21.66 3.22 L-21.42 4.55 Z" fill="#ee2424"/>
</g></g>
<g transform="translate(335 112.5)">
<path d="M143.2 250.2 L152.8 259 L144 268.9 Z" fill="#ee2424"/>
<path d="M103.5 218.5 C103.52 219.67 103.68 223.17 103.6 225.5 C103.52 227.83 103.52 230.17 103 232.5 C102.48 234.83 101.73 236.95 100.5 239.5 C99.27 242.05 97.63 244.57 95.6 247.8 C93.57 251.03 90.57 256.2 88.3 258.9 C86.03 261.6 84.22 262.73 82 264 C79.78 265.27 77.42 265.83 75 266.5 C72.58 267.17 68.75 267.75 67.5 268" stroke="#f6d490" stroke-width="6.2" fill="none" stroke-linecap="butt"/>
<path d="M99.8 237.5 L105 237.5" stroke="#111" stroke-width="1.8"/>
<path d="M93.4 244.5 L98.6 244.5" stroke="#111" stroke-width="1.8"/>
<path d="M88.2 252.1 L93.4 252.1" stroke="#111" stroke-width="1.8"/>
<path d="M84.8 260.6 L90 260.6" stroke="#111" stroke-width="1.8"/>
<path d="M106.7 244.6 L111.9 244.6 M109.3 242 L109.3 247.2" stroke="#111" stroke-width="1.8"/>
<path d="M101 251.1 L106.2 251.1 M103.6 248.5 L103.6 253.7" stroke="#111" stroke-width="1.8"/>
<path d="M96 257.5 L101.2 257.5 M98.6 254.9 L98.6 260.1" stroke="#111" stroke-width="1.8"/>
<path d="M145.7 207.6 L156.9 207.6 L156.9 212.5 C156.9 217.5 154 222.2 151.3 222.2 C148.6 222.2 145.7 217.5 145.7 212.5 Z" fill="#c0622a"/>
<path d="M152.2 207.6 L152.2 183.6 L172.2 183.6 L172.2 207.7 M172.2 260 L172.2 286" stroke="#28376f" stroke-width="1.4" fill="none"/>
<rect x="163.2" y="207.7" width="20.3" height="52.3" fill="#fff" stroke="#111" stroke-width="1.3"/>
<text x="0" y="0" font-size="12" fill="#111" text-anchor="middle" font-weight="bold" transform="translate(177.9 233.3) rotate(-90)">Load</text>
<path d="M189.6 240.6 L189.6 224" stroke="#ee2424" stroke-width="3.2"/>
<path d="M185.6 224.9 L193.7 224.9 L189.6 219 Z" fill="#ee2424"/>
<path d="M186.7 246.2 L193.7 246.2 M190.2 242.7 L190.2 249.7" stroke="#111" stroke-width="2.1"/>
</g>
<text x="390.2" y="330" font-size="12.3" fill="#222" text-anchor="start" font-weight="bold" >(iii)</text>
<clipPath id="dc501_0"><rect x="541" y="180" width="116.5" height="106.5"/></clipPath>
<g clip-path="url(#dc501_0)">
<g transform="translate(656.5 291.3)"><path d="M-88.23 12.4 L-88.7 8.39 L-88.99 4.35 L-89.1 0.31 L-89.02 -3.73 L-88.76 -7.77 L-88.32 -11.78 L-87.69 -15.78 L-86.89 -19.74 L-85.9 -23.66 L-84.74 -27.53 L-83.4 -31.35 L-81.89 -35.1 L-80.22 -38.78 L-78.38 -42.38 L-76.37 -45.89 L-74.21 -49.31 L-71.9 -52.62 L-69.44 -55.83 L-66.83 -58.92 L-64.09 -61.89 L-61.22 -64.74 L-58.22 -67.45 L-55.1 -70.02 L-51.87 -72.45 L-48.53 -74.73 L-45.09 -76.85 L-41.56 -78.82 L-37.94 -80.62 L-34.24 -82.26 L-30.47 -83.73 L-26.64 -85.02 L-22.76 -86.14 L-18.83 -87.09 L-14.86 -87.85 L-10.86 -88.44 L-6.84 -88.84 L-2.8 -89.06 L1.24 -89.09 L5.28 -88.94 L9.31 -88.61" stroke="#f1bfa8" stroke-width="4.5" fill="none"/></g>
<g transform="translate(652 283.4) scale(1 0.964)">
<path d="M-59.96 12.74 L-60.52 9.75 L-60.93 6.73 L-61.19 3.69 L-61.3 0.64 L-61.25 -2.41 L-61.06 -5.45 L-60.71 -8.48 L-60.21 -11.49 L-59.57 -14.47 L-58.78 -17.41 L-57.84 -20.31 L-56.76 -23.16 L-55.53 -25.95 L-54.17 -28.68 L-52.68 -31.34 L-51.06 -33.92 L-49.31 -36.42 L-47.44 -38.83 L-45.45 -41.14 L-43.35 -43.35 L-41.14 -45.45 L-38.83 -47.44 L-36.42 -49.31 L-33.92 -51.06 L-31.34 -52.68 L-28.68 -54.17 L-25.95 -55.53 L-23.16 -56.76 L-20.31 -57.84 L-17.41 -58.78 L-14.47 -59.57 L-11.49 -60.21 L-8.48 -60.71 L-5.45 -61.06 L-2.41 -61.25 L0.64 -61.3 L3.69 -61.19 L6.73 -60.93 L9.75 -60.52 L12.74 -59.96 L8.52 -40.1 L6.52 -40.48 L4.5 -40.75 L2.47 -40.93 L0.43 -41 L-1.61 -40.97 L-3.64 -40.84 L-5.67 -40.61 L-7.68 -40.27 L-9.68 -39.84 L-11.64 -39.31 L-13.58 -38.68 L-15.49 -37.96 L-17.36 -37.14 L-19.19 -36.23 L-20.96 -35.24 L-22.69 -34.15 L-24.36 -32.98 L-25.97 -31.73 L-27.51 -30.4 L-28.99 -28.99 L-30.4 -27.51 L-31.73 -25.97 L-32.98 -24.36 L-34.15 -22.69 L-35.24 -20.96 L-36.23 -19.19 L-37.14 -17.36 L-37.96 -15.49 L-38.68 -13.58 L-39.31 -11.64 L-39.84 -9.68 L-40.27 -7.68 L-40.61 -5.67 L-40.84 -3.64 L-40.97 -1.61 L-41 0.43 L-40.93 2.47 L-40.75 4.5 L-40.48 6.52 L-40.1 8.52 Z" fill="#8fb1de"/>
<path d="M-61.14 4.49 L-61.3 0.15 L-61.16 -4.2 L-60.71 -8.52 L-59.95 -12.8 L-58.89 -17.01 L-57.54 -21.14 L-55.9 -25.16 L-53.97 -29.06 L-45.34 -24.42 L-46.96 -21.14 L-48.34 -17.76 L-49.48 -14.29 L-50.37 -10.75 L-51 -7.16 L-51.38 -3.53 L-51.5 0.12 L-51.36 3.77 Z" fill="#d3d3d3"/>
<path d="M-59.96 12.74 L-60.02 12.48 L-60.07 12.22 L-60.12 11.96 L-60.17 11.7 L-60.22 11.43 L-60.27 11.17 L-60.32 10.91 L-60.37 10.64 L-50.72 8.94 L-50.68 9.16 L-50.64 9.39 L-50.6 9.61 L-50.55 9.83 L-50.51 10.05 L-50.47 10.27 L-50.42 10.49 L-50.37 10.71 Z" fill="#a3a3a5"/>
<path d="M-18.54 -58.43 L-14.73 -59.5 L-10.86 -60.33 L-6.94 -60.91 L-2.99 -61.23 L0.96 -61.29 L4.92 -61.1 L8.85 -60.66 L12.74 -59.96 L10.71 -50.37 L7.43 -50.96 L4.13 -51.33 L0.81 -51.49 L-2.52 -51.44 L-5.83 -51.17 L-9.12 -50.69 L-12.37 -49.99 L-15.57 -49.09 Z" fill="#d3d3d3"/>
<path d="M-50.76 -34.37 L-48.2 -37.88 L-45.39 -41.2 L-42.36 -44.31 L-39.12 -47.2 L-35.67 -49.85 L-32.05 -52.25 L-28.27 -54.39 L-24.35 -56.26 L-20.45 -47.26 L-23.75 -45.7 L-26.93 -43.9 L-29.97 -41.88 L-32.86 -39.65 L-35.59 -37.23 L-38.14 -34.61 L-40.49 -31.82 L-42.65 -28.87 Z" fill="#a3a3a5"/>
<path d="M-28.66 6.09 L-28.98 4.31 L-29.19 2.51 L-29.29 0.7 L-29.28 -1.11 L-29.15 -2.91 L-28.92 -4.71 L-28.57 -6.49 L-28.12 -8.24 L-27.55 -9.96 L-26.89 -11.64 L-26.12 -13.28 L-25.25 -14.87 L-24.28 -16.4 L-23.22 -17.87 L-22.07 -19.27 L-20.84 -20.6 L-19.53 -21.85 L-18.14 -23.01 L-16.68 -24.09 L-15.16 -25.07 L-13.59 -25.96 L-11.96 -26.75 L-10.28 -27.44 L-8.57 -28.02 L-6.4 -20.94 L-7.68 -20.51 L-8.94 -19.99 L-10.15 -19.4 L-11.33 -18.74 L-12.47 -18 L-13.56 -17.2 L-14.59 -16.33 L-15.58 -15.4 L-16.5 -14.4 L-17.36 -13.36 L-18.15 -12.26 L-18.87 -11.12 L-19.52 -9.93 L-20.1 -8.7 L-20.6 -7.45 L-21.02 -6.16 L-21.36 -4.85 L-21.62 -3.52 L-21.79 -2.18 L-21.88 -0.83 L-21.89 0.53 L-21.82 1.88 L-21.66 3.22 L-21.42 4.55 Z" fill="#ee2424"/>
</g></g>
<g transform="translate(501 0)">
<path d="M143.2 250.2 L152.8 259 L144 268.9 Z" fill="#ee2424"/>
<path d="M72.6 262.3 C74.32 261.9 79.83 261.15 82.9 259.9 C85.97 258.65 88.43 257.05 91 254.8 C93.57 252.55 95.6 249.5 98.3 246.4 C101 243.3 104.55 239.07 107.2 236.2 C109.85 233.33 112.23 231.27 114.2 229.2 C116.17 227.13 118.32 225.43 119 223.8 C119.68 222.17 119.8 220.2 118.3 219.4 C116.8 218.6 112.97 218.5 110 219 C107.03 219.5 102.92 221.33 100.5 222.4 C98.08 223.47 96.33 224.9 95.5 225.4" stroke="#f6d490" stroke-width="5.4" fill="none" stroke-linecap="round"/>
<path d="M112.2 229.8 L117.4 229.8" stroke="#111" stroke-width="1.8"/>
<path d="M103.7 237 L108.9 237" stroke="#111" stroke-width="1.8"/>
<path d="M96 246 L101.2 246" stroke="#111" stroke-width="1.8"/>
<path d="M88.4 255.6 L93.6 255.6" stroke="#111" stroke-width="1.8"/>
<path d="M118 238.4 L123.2 238.4 M120.6 235.8 L120.6 241" stroke="#111" stroke-width="1.8"/>
<path d="M110 244.7 L115.2 244.7 M112.6 242.1 L112.6 247.3" stroke="#111" stroke-width="1.8"/>
<path d="M102 252.1 L107.2 252.1 M104.6 249.5 L104.6 254.7" stroke="#111" stroke-width="1.8"/>
<path d="M145.7 207.6 L156.9 207.6 L156.9 212.5 C156.9 217.5 154 222.2 151.3 222.2 C148.6 222.2 145.7 217.5 145.7 212.5 Z" fill="#c0622a"/>
<path d="M152.2 207.6 L152.2 183.6 L172.2 183.6 L172.2 207.7 M172.2 260 L172.2 286" stroke="#28376f" stroke-width="1.4" fill="none"/>
<rect x="163.2" y="207.7" width="20.3" height="52.3" fill="#fff" stroke="#111" stroke-width="1.3"/>
<text x="0" y="0" font-size="12" fill="#111" text-anchor="middle" font-weight="bold" transform="translate(177.9 233.3) rotate(-90)">Load</text>
<path d="M189.6 240.6 L189.6 224" stroke="#ee2424" stroke-width="3.2"/>
<path d="M185.6 224.9 L193.7 224.9 L189.6 219 Z" fill="#ee2424"/>
<path d="M186.7 246.2 L193.7 246.2 M190.2 242.7 L190.2 249.7" stroke="#111" stroke-width="2.1"/>
</g>
<text x="556.2" y="205.5" font-size="12.3" fill="#222" text-anchor="start" font-weight="bold" >(iv)</text>
<clipPath id="dc501_112"><rect x="541" y="292.5" width="116.5" height="106.5"/></clipPath>
<g clip-path="url(#dc501_112)">
<g transform="translate(656.5 403.8)"><path d="M-88.23 12.4 L-88.7 8.39 L-88.99 4.35 L-89.1 0.31 L-89.02 -3.73 L-88.76 -7.77 L-88.32 -11.78 L-87.69 -15.78 L-86.89 -19.74 L-85.9 -23.66 L-84.74 -27.53 L-83.4 -31.35 L-81.89 -35.1 L-80.22 -38.78 L-78.38 -42.38 L-76.37 -45.89 L-74.21 -49.31 L-71.9 -52.62 L-69.44 -55.83 L-66.83 -58.92 L-64.09 -61.89 L-61.22 -64.74 L-58.22 -67.45 L-55.1 -70.02 L-51.87 -72.45 L-48.53 -74.73 L-45.09 -76.85 L-41.56 -78.82 L-37.94 -80.62 L-34.24 -82.26 L-30.47 -83.73 L-26.64 -85.02 L-22.76 -86.14 L-18.83 -87.09 L-14.86 -87.85 L-10.86 -88.44 L-6.84 -88.84 L-2.8 -89.06 L1.24 -89.09 L5.28 -88.94 L9.31 -88.61" stroke="#f1bfa8" stroke-width="4.5" fill="none"/></g>
<g transform="translate(652 395.9) scale(1 0.964)">
<path d="M-59.96 12.74 L-60.52 9.75 L-60.93 6.73 L-61.19 3.69 L-61.3 0.64 L-61.25 -2.41 L-61.06 -5.45 L-60.71 -8.48 L-60.21 -11.49 L-59.57 -14.47 L-58.78 -17.41 L-57.84 -20.31 L-56.76 -23.16 L-55.53 -25.95 L-54.17 -28.68 L-52.68 -31.34 L-51.06 -33.92 L-49.31 -36.42 L-47.44 -38.83 L-45.45 -41.14 L-43.35 -43.35 L-41.14 -45.45 L-38.83 -47.44 L-36.42 -49.31 L-33.92 -51.06 L-31.34 -52.68 L-28.68 -54.17 L-25.95 -55.53 L-23.16 -56.76 L-20.31 -57.84 L-17.41 -58.78 L-14.47 -59.57 L-11.49 -60.21 L-8.48 -60.71 L-5.45 -61.06 L-2.41 -61.25 L0.64 -61.3 L3.69 -61.19 L6.73 -60.93 L9.75 -60.52 L12.74 -59.96 L8.52 -40.1 L6.52 -40.48 L4.5 -40.75 L2.47 -40.93 L0.43 -41 L-1.61 -40.97 L-3.64 -40.84 L-5.67 -40.61 L-7.68 -40.27 L-9.68 -39.84 L-11.64 -39.31 L-13.58 -38.68 L-15.49 -37.96 L-17.36 -37.14 L-19.19 -36.23 L-20.96 -35.24 L-22.69 -34.15 L-24.36 -32.98 L-25.97 -31.73 L-27.51 -30.4 L-28.99 -28.99 L-30.4 -27.51 L-31.73 -25.97 L-32.98 -24.36 L-34.15 -22.69 L-35.24 -20.96 L-36.23 -19.19 L-37.14 -17.36 L-37.96 -15.49 L-38.68 -13.58 L-39.31 -11.64 L-39.84 -9.68 L-40.27 -7.68 L-40.61 -5.67 L-40.84 -3.64 L-40.97 -1.61 L-41 0.43 L-40.93 2.47 L-40.75 4.5 L-40.48 6.52 L-40.1 8.52 Z" fill="#8fb1de"/>
<path d="M-60.96 6.41 L-61.26 2.07 L-61.26 -2.27 L-60.94 -6.61 L-60.32 -10.91 L-59.4 -15.15 L-58.17 -19.32 L-56.66 -23.4 L-54.86 -27.35 L-46.09 -22.98 L-47.6 -19.66 L-48.87 -16.23 L-49.9 -12.73 L-50.68 -9.16 L-51.2 -5.55 L-51.46 -1.91 L-51.47 1.74 L-51.22 5.38 Z" fill="#d3d3d3"/>
<path d="M-59.96 12.74 L-59.97 12.72 L-59.97 12.69 L-59.98 12.67 L-59.98 12.64 L-59.99 12.61 L-59.99 12.59 L-60 12.56 L-60 12.54 L-50.41 10.53 L-50.41 10.55 L-50.4 10.58 L-50.4 10.6 L-50.39 10.62 L-50.39 10.64 L-50.38 10.66 L-50.38 10.69 L-50.37 10.71 Z" fill="#a3a3a5"/>
<path d="M-20.36 -57.82 L-16.36 -59.08 L-12.27 -60.06 L-8.13 -60.76 L-3.96 -61.17 L0.24 -61.3 L4.44 -61.14 L8.61 -60.69 L12.74 -59.96 L10.71 -50.37 L7.23 -50.99 L3.73 -51.36 L0.2 -51.5 L-3.32 -51.39 L-6.83 -51.04 L-10.31 -50.46 L-13.74 -49.63 L-17.11 -48.58 Z" fill="#d3d3d3"/>
<path d="M-51.81 -32.76 L-49.36 -36.34 L-46.66 -39.75 L-43.73 -42.96 L-40.58 -45.95 L-37.22 -48.71 L-33.68 -51.22 L-29.96 -53.48 L-26.1 -55.47 L-21.93 -46.6 L-25.17 -44.93 L-28.29 -43.03 L-31.27 -40.92 L-34.09 -38.6 L-36.74 -36.09 L-39.2 -33.4 L-41.47 -30.53 L-43.53 -27.52 Z" fill="#a3a3a5"/>
<path d="M-28.66 6.09 L-28.98 4.31 L-29.19 2.51 L-29.29 0.7 L-29.28 -1.11 L-29.15 -2.91 L-28.92 -4.71 L-28.57 -6.49 L-28.12 -8.24 L-27.55 -9.96 L-26.89 -11.64 L-26.12 -13.28 L-25.25 -14.87 L-24.28 -16.4 L-23.22 -17.87 L-22.07 -19.27 L-20.84 -20.6 L-19.53 -21.85 L-18.14 -23.01 L-16.68 -24.09 L-15.16 -25.07 L-13.59 -25.96 L-11.96 -26.75 L-10.28 -27.44 L-8.57 -28.02 L-6.4 -20.94 L-7.68 -20.51 L-8.94 -19.99 L-10.15 -19.4 L-11.33 -18.74 L-12.47 -18 L-13.56 -17.2 L-14.59 -16.33 L-15.58 -15.4 L-16.5 -14.4 L-17.36 -13.36 L-18.15 -12.26 L-18.87 -11.12 L-19.52 -9.93 L-20.1 -8.7 L-20.6 -7.45 L-21.02 -6.16 L-21.36 -4.85 L-21.62 -3.52 L-21.79 -2.18 L-21.88 -0.83 L-21.89 0.53 L-21.82 1.88 L-21.66 3.22 L-21.42 4.55 Z" fill="#ee2424"/>
</g></g>
<g transform="translate(501 112.5)">
<path d="M143.2 250.2 L152.8 259 L144 268.9 Z" fill="#ee2424"/>
<path d="M103.5 218.5 C103.52 219.67 103.68 223.17 103.6 225.5 C103.52 227.83 103.52 230.17 103 232.5 C102.48 234.83 101.73 236.95 100.5 239.5 C99.27 242.05 97.63 244.57 95.6 247.8 C93.57 251.03 90.57 256.2 88.3 258.9 C86.03 261.6 84.22 262.73 82 264 C79.78 265.27 77.42 265.83 75 266.5 C72.58 267.17 68.75 267.75 67.5 268" stroke="#f6d490" stroke-width="6.2" fill="none" stroke-linecap="butt"/>
<path d="M99.8 237.5 L105 237.5" stroke="#111" stroke-width="1.8"/>
<path d="M93.4 244.5 L98.6 244.5" stroke="#111" stroke-width="1.8"/>
<path d="M88.2 252.1 L93.4 252.1" stroke="#111" stroke-width="1.8"/>
<path d="M84.8 260.6 L90 260.6" stroke="#111" stroke-width="1.8"/>
<path d="M106 246.1 L111.2 246.1 M108.6 243.5 L108.6 248.7" stroke="#111" stroke-width="1.8"/>
<path d="M101.7 251.5 L106.9 251.5 M104.3 248.9 L104.3 254.1" stroke="#111" stroke-width="1.8"/>
<path d="M94.8 263.2 L100 263.2 M97.4 260.6 L97.4 265.8" stroke="#111" stroke-width="1.8"/>
<path d="M145.7 207.6 L156.9 207.6 L156.9 212.5 C156.9 217.5 154 222.2 151.3 222.2 C148.6 222.2 145.7 217.5 145.7 212.5 Z" fill="#c0622a"/>
<path d="M152.2 207.6 L152.2 183.6 L172.2 183.6 L172.2 207.7 M172.2 260 L172.2 286" stroke="#28376f" stroke-width="1.4" fill="none"/>
<rect x="163.2" y="207.7" width="20.3" height="52.3" fill="#fff" stroke="#111" stroke-width="1.3"/>
<text x="0" y="0" font-size="12" fill="#111" text-anchor="middle" font-weight="bold" transform="translate(177.9 233.3) rotate(-90)">Load</text>
<path d="M189.6 240.6 L189.6 224" stroke="#ee2424" stroke-width="3.2"/>
<path d="M185.6 224.9 L193.7 224.9 L189.6 219 Z" fill="#ee2424"/>
<path d="M186.7 246.2 L193.7 246.2 M190.2 242.7 L190.2 249.7" stroke="#111" stroke-width="2.1"/>
</g>
<text x="556" y="330" font-size="12.3" fill="#222" text-anchor="start" font-weight="bold" >(iv)</text>
<path d="M206.4 234.9 L218 234.9 L218 226.4 L229.3 243.5 L218 260.7 L218 251.6 L206.4 251.6 Z" fill="#a9a8aa"/>
<path d="M206.4 347.4 L218 347.4 L218 338.9 L229.3 356 L218 373.2 L218 364.1 L206.4 364.1 Z" fill="#a9a8aa"/>
<path d="M373.3 234.9 L384.9 234.9 L384.9 226.4 L396.2 243.5 L384.9 260.7 L384.9 251.6 L373.3 251.6 Z" fill="#a9a8aa"/>
<path d="M373.3 347.4 L384.9 347.4 L384.9 338.9 L396.2 356 L384.9 373.2 L384.9 364.1 L373.3 364.1 Z" fill="#a9a8aa"/>
<path d="M539.7 234.9 L551.3 234.9 L551.3 226.4 L562.6 243.5 L551.3 260.7 L551.3 251.6 L539.7 251.6 Z" fill="#a9a8aa"/>
<path d="M539.7 347.4 L551.3 347.4 L551.3 338.9 L562.6 356 L551.3 373.2 L551.3 364.1 L539.7 364.1 Z" fill="#a9a8aa"/>
<rect x="74.1" y="408.2" width="17" height="17" rx="1.5" fill="#fbe4bd"/>
<text x="99" y="421.6" font-size="12.55" fill="#222" text-anchor="start" font-weight="bold" >FEP film</text>
<rect x="212.3" y="408.2" width="17" height="17" rx="1.5" fill="#d3d3d3"/>
<text x="236.4" y="421.6" font-size="12.55" fill="#222" text-anchor="start" font-weight="bold" >Electrode 1</text>
<rect x="386.5" y="408.2" width="17" height="17" rx="1.5" fill="#a3a3a5"/>
<text x="411.5" y="421.6" font-size="12.55" fill="#222" text-anchor="start" font-weight="bold" >Electrode 2</text>
<rect x="546.8" y="408.2" width="17" height="17" rx="1.5" fill="#c0622a"/>
<text x="570.4" y="421.6" font-size="12.55" fill="#222" text-anchor="start" font-weight="bold" >Electrical brush</text>
<text x="1.5" y="452.3" font-size="12.5" fill="#222" text-anchor="start" font-weight="bold" >(e)</text>
<path d="M114.4 448.3 L114.4 510.6" stroke="#cfcfcf" stroke-width="1"/>
<path d="M173.6 448.3 L173.6 510.6" stroke="#cfcfcf" stroke-width="1"/>
<path d="M118 510.6 L118 572.8" stroke="#cfcfcf" stroke-width="1"/>
<path d="M181.2 510.6 L181.2 572.8" stroke="#cfcfcf" stroke-width="1"/>
<path d="M53.7 493.8 L224.1 493.8" stroke="#333" stroke-width="1.3" stroke-dasharray="4.5 3"/>
<path d="M53.7 556.2 L224.1 556.2" stroke="#333" stroke-width="1.3" stroke-dasharray="4.5 3"/>
<path d="M63.8 494.3 L72 481.4 L79.7 470.3 L89.1 460.9 L96.9 452.3 L99.5 451.5 L101.1 452.2 L104.6 460 L109.7 470.3 L114.5 478.3" stroke="#3a3a3a" stroke-width="1.5" fill="none" stroke-linejoin="round"/>
<path d="M114.4 504.7 L124.4 494.1 L136.1 475 L145.6 463.3 L154.1 453.8 L158.3 450.6 L160.5 452.7 L165.8 464.4 L173.6 477.1" stroke="#3a3a3a" stroke-width="1.5" fill="none" stroke-linejoin="round"/>
<path d="M173.6 503.2 L177.4 498.3 L180.6 496.9 L184.9 489.9 L195.5 471.8 L206.1 461.2 L214.6 454.4" stroke="#3a3a3a" stroke-width="1.5" fill="none" stroke-linejoin="round"/>
<path d="M63.8 556.2 L67 548.5 L72 539.4 L78 532.5 L85.7 526.6 L97.7 519.7 L101.1 515.4 L105.4 514 L108 522 L110.5 533 L112.3 539.4 L114.5 544 L116.5 548 L118.3 556.7" stroke="#e0707e" stroke-width="1.5" fill="none" stroke-linejoin="round"/>
<path d="M121.2 556.5 L125 547 L131.8 535.5 L142.4 525.9 L157.3 518.5 L163.6 513.2 L165.8 512.8 L170 522.7 L172 531 L175.3 539.7 L178.5 545 L181.2 557.7" stroke="#e0707e" stroke-width="1.5" fill="none" stroke-linejoin="round"/>
<path d="M181.2 557.7 L185 548.5 L191.2 538.6 L201.8 528 L214.6 520.2" stroke="#e0707e" stroke-width="1.5" fill="none" stroke-linejoin="round"/>
<rect x="53.7" y="448.3" width="170.39999999999998" height="124.49999999999994" fill="none" stroke="#222" stroke-width="1.5"/>
<path d="M53.7 510.6 L224.1 510.6" stroke="#222" stroke-width="1.5"/>
<path d="M49.5 448.2 L53.7 448.2" stroke="#222" stroke-width="1.3"/>
<text x="48.3" y="452.7" font-size="12.4" fill="#222" text-anchor="end" font-weight="bold" >800</text>
<path d="M49.5 471.0 L53.7 471.0" stroke="#222" stroke-width="1.3"/>
<text x="48.3" y="475.5" font-size="12.4" fill="#222" text-anchor="end" font-weight="bold" >400</text>
<path d="M49.5 493.8 L53.7 493.8" stroke="#222" stroke-width="1.3"/>
<text x="48.3" y="498.3" font-size="12.4" fill="#222" text-anchor="end" font-weight="bold" >0</text>
<path d="M49.5 511.1 L53.7 511.1" stroke="#222" stroke-width="1.3"/>
<text x="48.3" y="515.6" font-size="12.4" fill="#222" text-anchor="end" font-weight="bold" >800</text>
<path d="M49.5 533.7 L53.7 533.7" stroke="#222" stroke-width="1.3"/>
<text x="48.3" y="538.2" font-size="12.4" fill="#222" text-anchor="end" font-weight="bold" >400</text>
<path d="M49.5 556.2 L53.7 556.2" stroke="#222" stroke-width="1.3"/>
<text x="48.3" y="560.7" font-size="12.4" fill="#222" text-anchor="end" font-weight="bold" >0</text>
<path d="M63.8 572.8 L63.8 576.8" stroke="#222" stroke-width="1.3"/>
<text x="63.8" y="590" font-size="12.4" fill="#222" text-anchor="middle" font-weight="bold" >0.00</text>
<path d="M113.8 572.8 L113.8 576.8" stroke="#222" stroke-width="1.3"/>
<text x="113.8" y="590" font-size="12.4" fill="#222" text-anchor="middle" font-weight="bold" >0.01</text>
<path d="M163.8 572.8 L163.8 576.8" stroke="#222" stroke-width="1.3"/>
<text x="163.8" y="590" font-size="12.4" fill="#222" text-anchor="middle" font-weight="bold" >0.02</text>
<path d="M213.8 572.8 L213.8 576.8" stroke="#222" stroke-width="1.3"/>
<text x="213.8" y="590" font-size="12.4" fill="#222" text-anchor="middle" font-weight="bold" >0.03</text>
<text x="138.6" y="602" font-size="12.6" fill="#222" text-anchor="middle" font-weight="bold" >Time/s</text>
<text x="57.1" y="506" font-size="11.3" fill="#222" text-anchor="start" font-weight="bold" >5 films</text>
<text x="57.1" y="568.6" font-size="11.3" fill="#ee2a2a" text-anchor="start" font-weight="bold" >5 films (modified)</text>
<text transform="translate(14.6 531.8) rotate(-90)" font-size="12.5" fill="#222" font-weight="bold"><tspan font-style="italic">V</tspan><tspan font-size="7" dy="2.6">Output</tspan><tspan dy="-2.6">/V</tspan></text>
<text x="244.2" y="452.8" font-size="12.5" fill="#222" text-anchor="start" font-weight="bold" >(f)</text>
<path d="M294.3 515.8 L690 515.8" stroke="#555" stroke-width="1.3" stroke-dasharray="4.5 3"/>
<path d="M294.3 520.2 L374 520.2 M374 528.8 L452.3 528.8 M531.5 540.3 L611 540.3" stroke="#333" stroke-width="1.2"/>
<path d="M452.3 520.2 L531.5 520.2 M610.5 531.5 L690 531.5" stroke="#ee2a2a" stroke-width="1.2"/>
<path d="M452.5 528.5 Q455.5 527.5 456 523" stroke="#ee2a2a" stroke-width="1" fill="none"/>
<path d="M456.6 522 L456.4 525.35 L453.8 523.85 Z" fill="#ee2a2a"/>
<path d="M611.2 540 Q616.0 539 616.5 534" stroke="#ee2a2a" stroke-width="1" fill="none"/>
<path d="M617.1 533 L616.9 536.35 L614.3 534.85 Z" fill="#ee2a2a"/>
<path d="M310.6 519.7 L315.7 481.1 L318.3 478.6 L320.9 471.7 L326.3 519.7 L331.1 483.7 L333.2 480.5 L336.3 472.9 L342.3 519.7 L346.6 483.7 L349.1 480.3 L351.7 470.9 L355 492 L357.7 515.4" stroke="#555" stroke-width="1.3" fill="none" stroke-linejoin="round"/>
<path d="M389.2 526.6 L395.7 465.5 L399 529 L405.1 465.5 L408.6 524 L414.9 465.5 L418.2 529 L424.5 465.5 L427.8 524 L434.3 465.5 L437.7 504.3 L437.7 529" stroke="#444" stroke-width="1.3" fill="none" stroke-linejoin="round"/>
<path d="M468.5 519.7 C468.8 487.14 472.46 462.5 475.7 460.5 C476.35 478.26 478 504.9 478.3 519.7 M478.3 519.7 C478.6 487.14 482.04 462.5 485.1 460.5 C485.85 478.26 487.8 504.9 488.1 519.7 M488.1 519.7 C488.4 487.14 491.84 462.5 494.9 460.5 C495.6 478.26 497.4 504.9 497.7 519.7 M497.7 519.7 C498 487.14 501.44 462.5 504.5 460.5 C505.15 478.26 506.8 504.9 507.1 519.7 M507.1 519.7 C507.4 487.14 510.78 462.5 513.8 460.5 C514.57 478.26 516.6 504.9 516.9 519.7 " stroke="#e27f92" stroke-width="1.3" fill="none"/>
<path d="M548 538.6 L552.3 482.5 L555.6 537 L559.5 484 L562.6 534 L566.3 483.5 L569.45 539 L573.2 480.3 L576.35 535 L580.1 481 L583.2 538 L586.9 481.5 L590.05 536 L593.8 484 L596 504.3 L596 541" stroke="#444" stroke-width="1.25" fill="none" stroke-linejoin="round"/>
<path d="M627 526 L631.7 479 L635.65 530.6 L638.6 479 L642.65 530.6 L645.7 479 L649.7 530.6 L652.7 479 L656.65 530.6 L659.6 479 L663.6 530.6 L666.6 479 L670.65 530.6 L673.7 479 L676.3 530.6" stroke="#e27f92" stroke-width="1.25" fill="none" stroke-linejoin="round"/>
<rect x="294.3" y="445.7" width="395.7" height="127.90000000000003" fill="none" stroke="#222" stroke-width="1.5"/>
<path d="M374 445.7 L374 573.6 M531.5 445.7 L531.5 573.6" stroke="#222" stroke-width="1.5"/>
<path d="M290.1 572.44 L294.3 572.44" stroke="#222" stroke-width="1"/>
<text x="289.3" y="576.84" font-size="12.4" fill="#222" text-anchor="end" font-weight="bold" >&#8722;800</text>
<path d="M292.1 565.41 L294.3 565.41" stroke="#222" stroke-width="1"/>
<path d="M290.1 558.38 L294.3 558.38" stroke="#222" stroke-width="1"/>
<text x="289.3" y="562.78" font-size="12.4" fill="#222" text-anchor="end" font-weight="bold" >&#8722;600</text>
<path d="M292.1 551.35 L294.3 551.35" stroke="#222" stroke-width="1"/>
<path d="M290.1 544.32 L294.3 544.32" stroke="#222" stroke-width="1"/>
<text x="289.3" y="548.72" font-size="12.4" fill="#222" text-anchor="end" font-weight="bold" >&#8722;400</text>
<path d="M292.1 537.29 L294.3 537.29" stroke="#222" stroke-width="1"/>
<path d="M290.1 530.26 L294.3 530.26" stroke="#222" stroke-width="1"/>
<text x="289.3" y="534.66" font-size="12.4" fill="#222" text-anchor="end" font-weight="bold" >&#8722;200</text>
<path d="M292.1 523.23 L294.3 523.23" stroke="#222" stroke-width="1"/>
<path d="M290.1 516.2 L294.3 516.2" stroke="#222" stroke-width="1"/>
<text x="289.3" y="520.6" font-size="12.4" fill="#222" text-anchor="end" font-weight="bold" >0</text>
<path d="M292.1 509.17 L294.3 509.17" stroke="#222" stroke-width="1"/>
<path d="M290.1 502.14 L294.3 502.14" stroke="#222" stroke-width="1"/>
<text x="289.3" y="506.54" font-size="12.4" fill="#222" text-anchor="end" font-weight="bold" >200</text>
<path d="M292.1 495.11 L294.3 495.11" stroke="#222" stroke-width="1"/>
<path d="M290.1 488.08 L294.3 488.08" stroke="#222" stroke-width="1"/>
<text x="289.3" y="492.48" font-size="12.4" fill="#222" text-anchor="end" font-weight="bold" >400</text>
<path d="M292.1 481.05 L294.3 481.05" stroke="#222" stroke-width="1"/>
<path d="M290.1 474.02 L294.3 474.02" stroke="#222" stroke-width="1"/>
<text x="289.3" y="478.42" font-size="12.4" fill="#222" text-anchor="end" font-weight="bold" >600</text>
<path d="M292.1 466.99 L294.3 466.99" stroke="#222" stroke-width="1"/>
<path d="M290.1 459.96 L294.3 459.96" stroke="#222" stroke-width="1"/>
<text x="289.3" y="464.36" font-size="12.4" fill="#222" text-anchor="end" font-weight="bold" >800</text>
<path d="M292.1 452.93 L294.3 452.93" stroke="#222" stroke-width="1"/>
<path d="M290.1 445.9 L294.3 445.9" stroke="#222" stroke-width="1"/>
<text x="289.3" y="450.3" font-size="12.4" fill="#222" text-anchor="end" font-weight="bold" >1&#8201;000</text>
<path d="M294.3 573.6 L294.3 577.6" stroke="#222" stroke-width="1"/>
<text x="294.3" y="587" font-size="12.4" fill="#222" text-anchor="middle" font-weight="bold" >0.0</text>
<path d="M333.9 573.6 L333.9 575.8" stroke="#222" stroke-width="1"/>
<path d="M373.5 573.6 L373.5 577.6" stroke="#222" stroke-width="1"/>
<text x="373.5" y="587" font-size="12.4" fill="#222" text-anchor="middle" font-weight="bold" >0.1</text>
<path d="M413.1 573.6 L413.1 575.8" stroke="#222" stroke-width="1"/>
<path d="M452.7 573.6 L452.7 577.6" stroke="#222" stroke-width="1"/>
<text x="452.7" y="587" font-size="12.4" fill="#222" text-anchor="middle" font-weight="bold" >0.2</text>
<path d="M492.3 573.6 L492.3 575.8" stroke="#222" stroke-width="1"/>
<path d="M531.9 573.6 L531.9 577.6" stroke="#222" stroke-width="1"/>
<text x="531.9" y="587" font-size="12.4" fill="#222" text-anchor="middle" font-weight="bold" >0.3</text>
<path d="M571.5 573.6 L571.5 575.8" stroke="#222" stroke-width="1"/>
<path d="M611.1 573.6 L611.1 577.6" stroke="#222" stroke-width="1"/>
<text x="611.1" y="587" font-size="12.4" fill="#222" text-anchor="middle" font-weight="bold" >0.4</text>
<path d="M650.7 573.6 L650.7 575.8" stroke="#222" stroke-width="1"/>
<path d="M690.3 573.6 L690.3 577.6" stroke="#222" stroke-width="1"/>
<text x="690.3" y="587" font-size="12.4" fill="#222" text-anchor="middle" font-weight="bold" >0.5</text>
<text x="471.2" y="599.4" font-size="12.6" fill="#222" text-anchor="middle" font-weight="bold" >Time/s</text>
<text transform="translate(251.2 531.2) rotate(-90)" font-size="12.5" fill="#222" font-weight="bold"><tspan font-style="italic">V</tspan><tspan font-size="7" dy="2.6">Output</tspan><tspan dy="-2.6">/V</tspan></text>
<text x="298.2" y="458.5" font-size="11.3" fill="#222" text-anchor="start" font-weight="bold" >3 films</text>
<text x="378.9" y="458.5" font-size="11.3" fill="#222" text-anchor="start" font-weight="bold" >5 films</text>
<text x="537.2" y="458.5" font-size="11.3" fill="#222" text-anchor="start" font-weight="bold" >7 films</text>
<text x="332.1" y="531.7" font-size="11.3" fill="#222" text-anchor="middle" font-weight="bold" >Original</text>
<text x="329.6" y="544.6" font-size="11.3" fill="#222" text-anchor="middle" font-weight="bold">(<tspan font-style="italic">R</tspan>=9.5%)</text>
<text x="413.5" y="541.1" font-size="11.3" fill="#222" text-anchor="middle" font-weight="bold" >Original</text>
<text x="413.3" y="554" font-size="11.3" fill="#222" text-anchor="middle" font-weight="bold" >(20.6%)</text>
<text x="491.4" y="534" font-size="11.3" fill="#ee2a2a" text-anchor="middle" font-weight="bold" >Modified</text>
<text x="491.1" y="547.7" font-size="11.3" fill="#ee2a2a" text-anchor="middle" font-weight="bold" >(8.8%)</text>
<text x="572.1" y="552.3" font-size="11.3" fill="#222" text-anchor="middle" font-weight="bold" >Original</text>
<text x="571.8" y="565.2" font-size="11.3" fill="#222" text-anchor="middle" font-weight="bold" >(62.9%)</text>
<text x="649.6" y="545.8" font-size="11.3" fill="#ee2a2a" text-anchor="middle" font-weight="bold" >Modified</text>
<text x="649.6" y="559.1" font-size="11.3" fill="#ee2a2a" text-anchor="middle" font-weight="bold" >(31.5%)</text>
<text x="1" y="627.7" font-size="12.5" fill="#222" text-anchor="start" font-weight="bold" >(g)</text>
<rect x="19.4" y="639.2" width="165.9" height="125.4" fill="#fde8dc" stroke="#f2ad8e" stroke-width="1.2"/>
<rect x="95.3" y="625.3" width="14" height="157.2" fill="#dcdcdc" stroke="#c8c8c8" stroke-width="0.8"/>
<rect x="36.2" y="662.3" width="132" height="82.6" fill="#c9d7ec" stroke="#9fb3d8" stroke-width="1"/>
<path d="M19.4 654.5 A16.5 6 0 0 1 19.4 666.5 Z" fill="#d6946f"/>
<path d="M19.4 739.6 A16.5 6 0 0 1 19.4 751.6 Z" fill="#d6946f"/>
<path d="M185.3 655.9 A16.5 6 0 0 0 185.3 667.9 Z" fill="#d6946f"/>
<path d="M185.3 739.8 A16.5 6 0 0 0 185.3 751.8 Z" fill="#d6946f"/>
<g transform="translate(103.5 703) rotate(-30)"><rect x="-42" y="-6" width="84" height="12" rx="3" fill="#fff" stroke="#9ab0d6" stroke-width="1"/></g>
<path d="M19.4 704 L185.3 704" stroke="#a9a9b0" stroke-width="1.3" stroke-dasharray="4 3"/>
<circle cx="102.1" cy="703.6" r="6.3" fill="#c7e3b5" stroke="#98c585" stroke-width="0.8"/>
<path d="M71.5 730 L92.5 730" stroke="#666" stroke-width="1.2"/>
<path d="M83 730 A11 11 0 0 0 81.8 725" stroke="#666" stroke-width="1" fill="none"/>
<text x="93.2" y="726.5" font-size="12.5" fill="#111" text-anchor="start" font-weight="bold" font-style="italic" >&#952;</text>
<path d="M74.5 698.3 L18 698.3" stroke="#111" stroke-width="2.4" stroke-dasharray="4.2 2.4"/>
<path d="M23 693.05 L15.5 698.3 L23 703.55" stroke="#111" stroke-width="2.2" fill="none" stroke-linejoin="miter"/>
<path d="M97.5 698.3 L78 698.3" stroke="#6aab52" stroke-width="2"/>
<path d="M84.5 692.8 L77 698.3 L84.5 703.8" stroke="#6aab52" stroke-width="2" fill="none" stroke-linejoin="miter"/>
<path d="M98.5 697.5 L79.5 664.5" stroke="#2a5ab8" stroke-width="2"/>
<path d="M86.67 666.91 L78.6 662.9 L78 671.89" stroke="#2a5ab8" stroke-width="2" fill="none" stroke-linejoin="miter"/>
<path d="M99.3 698 L99.3 664.5" stroke="#ee2a2a" stroke-width="2.4"/>
<path d="M104.3 670.4 L99.3 662.9 L94.3 670.4" stroke="#ee2a2a" stroke-width="2.2" fill="none" stroke-linejoin="miter"/>
<text x="42.9" y="655.7" font-size="11.3" fill="#2a5ab8" font-weight="bold"><tspan font-style="italic">F</tspan><tspan font-size="7" dy="2.2">Rod</tspan><tspan dy="-2.2">sin<tspan font-style="italic">&#952;</tspan></tspan></text>
<text x="95.6" y="655.2" font-size="11.3" fill="#ee2a2a" font-weight="bold"><tspan font-style="italic">F</tspan><tspan font-size="7" dy="2.2">Rod</tspan><tspan dy="-2.2">sin<tspan font-style="italic">&#952;</tspan>cos<tspan font-style="italic">&#952;</tspan></tspan></text>
<text x="32.1" y="691.6" font-size="11.3" fill="#111" font-weight="bold"><tspan font-style="italic">F</tspan><tspan font-size="7" dy="2.2">Rod</tspan><tspan dy="-2.2"></tspan></text>
<text x="39.3" y="715.8" font-size="11.3" fill="#6aab52" font-weight="bold"><tspan font-style="italic">F</tspan><tspan font-size="7" dy="2.2">Rod</tspan><tspan dy="-2.2">sin<tspan font-size="7" dy="-5">2</tspan><tspan dy="5" font-style="italic">&#952;</tspan></tspan></text>
<text x="198.5" y="625.5" font-size="12.5" fill="#222" text-anchor="start" font-weight="bold" >(h)</text>
<defs><linearGradient id="pb" x1="0" x2="1" y1="0" y2="0"><stop offset="0" stop-color="#fde4e4" stop-opacity="0"/><stop offset="0.2" stop-color="#fdeded" stop-opacity="1"/><stop offset="0.8" stop-color="#fdeded" stop-opacity="1"/><stop offset="1" stop-color="#fde4e4" stop-opacity="0"/></linearGradient></defs>
<rect x="308" y="622.2" width="75" height="143.79999999999995" fill="url(#pb)"/>
<path d="M242.86 694.29 L262.86 694.29 L263.71 692.29 L265.71 691.43 L267.14 692 L268 662.86 L268.86 687.14 L270 675.71 L270.86 688.57 L271.71 672.86 L272.86 690 L274 674.29 L275.14 688.57 L276.29 675.71 L277.43 690 L278.57 677.14 L279.71 689.43 L280.86 678.57 L282 690 L283.14 679.14 L284.29 688.57 L285.71 682.86 L287.14 690 L288.57 684.29 L290 681.43 L291.43 688.57 L292.86 687.14 L295.71 687.14 L297.14 685.71 L298.57 688.57 L300 687.14 L301.43 688.57 L302.86 694.29 L312.86 694.29" stroke="#3c3c3c" stroke-width="0.95" fill="none" stroke-linejoin="round"/>
<path d="M312.86 694.29 L318.57 694.29 L320.86 691.43 L322.86 687.14 L323.71 690 L324.86 681.43 L326 688.57 L327.14 672.86 L328 687.14 L328.86 664.29 L330 688.57 L331.14 670 L332.29 688.57 L333.43 672.86 L334.29 688.57 L335.43 664.29 L336.57 687.14 L337.71 662.86 L338.86 690 L340 675.71 L341.14 688.57 L342.29 672.86 L343.43 688.57 L344.57 678.57 L345.71 672.86 L346.86 690 L348 680 L349.14 688.57 L350.29 677.14 L351.43 688.57 L352.57 680 L353.71 690 L354.86 678.57 L356 688.57 L357.43 675.71 L358.57 690 L360 684.29 L361.43 688.57 L362.86 684.29 L364.29 685.71 L365.71 682.86 L367.14 688.57 L368.57 687.14 L370 690 L372.86 694.29 L375.71 694.29" stroke="#e07388" stroke-width="0.95" fill="none" stroke-linejoin="round"/>
<path d="M375.71 694.29 L384.29 694.29 L385.71 693.43 L387.14 685.71 L388.29 695.14 L389.14 698 L389.71 694.57 L390.29 703.71 L390.86 696.29 L391.43 708.57 L392 698.57 L392.86 715.71 L393.43 702 L394 720.86 L394.57 704.86 L395.14 715.71 L395.71 703.71 L396.57 725.71 L397.14 710 L398 730.57 L398.57 714.29 L399.14 727.14 L400 704.29 L400.86 664.29 L401.43 638.57 L402.29 672.86 L403.14 690 L404.29 672.86 L405.14 695.71 L406 664.29 L406.86 687.14 L407.71 667.14 L408.57 691.43 L409.43 670 L410.57 688.57 L411.71 675.71 L412.86 691.43 L414 671.43 L415.14 690 L416.29 684.29 L417.43 691.43 L418.57 680 L419.71 692.86 L420.86 682.86 L422 694.29 L423.14 687.14 L424.29 695.71 L425.43 685.71 L426.57 697.14 L427.71 691.43 L428.86 700 L430 697.14 L431.14 691.43 L432.29 687.14 L433.14 694.29 L452.57 694.29" stroke="#3c3c3c" stroke-width="0.95" fill="none" stroke-linejoin="round"/>
<rect x="243.6" y="622.2" width="209.00000000000003" height="143.79999999999995" fill="none" stroke="#222" stroke-width="1.5"/>
<path d="M239.1 636.8 L243.6 636.8" stroke="#222" stroke-width="1.3"/>
<text x="237.3" y="641.3" font-size="12.6" fill="#222" text-anchor="end" font-weight="bold" >200</text>
<path d="M239.1 665.4 L243.6 665.4" stroke="#222" stroke-width="1.3"/>
<text x="237.3" y="669.9" font-size="12.6" fill="#222" text-anchor="end" font-weight="bold" >100</text>
<path d="M239.1 694 L243.6 694" stroke="#222" stroke-width="1.3"/>
<text x="237.3" y="698.5" font-size="12.6" fill="#222" text-anchor="end" font-weight="bold" >0</text>
<path d="M239.1 722.6 L243.6 722.6" stroke="#222" stroke-width="1.3"/>
<text x="237.3" y="727.1" font-size="12.6" fill="#222" text-anchor="end" font-weight="bold" >&#8722;100</text>
<path d="M239.1 751.2 L243.6 751.2" stroke="#222" stroke-width="1.3"/>
<text x="237.3" y="755.7" font-size="12.6" fill="#222" text-anchor="end" font-weight="bold" >&#8722;200</text>
<path d="M243.6 766 L243.6 770" stroke="#222" stroke-width="1.3"/>
<text x="243.6" y="778" font-size="12.6" fill="#222" text-anchor="middle" font-weight="bold" >0</text>
<path d="M281.72 766 L281.72 770" stroke="#222" stroke-width="1.3"/>
<text x="281.72" y="778" font-size="12.6" fill="#222" text-anchor="middle" font-weight="bold" >1</text>
<path d="M319.84 766 L319.84 770" stroke="#222" stroke-width="1.3"/>
<text x="319.84" y="778" font-size="12.6" fill="#222" text-anchor="middle" font-weight="bold" >2</text>
<path d="M357.96 766 L357.96 770" stroke="#222" stroke-width="1.3"/>
<text x="357.96" y="778" font-size="12.6" fill="#222" text-anchor="middle" font-weight="bold" >3</text>
<path d="M396.08 766 L396.08 770" stroke="#222" stroke-width="1.3"/>
<text x="396.08" y="778" font-size="12.6" fill="#222" text-anchor="middle" font-weight="bold" >4</text>
<path d="M434.2 766 L434.2 770" stroke="#222" stroke-width="1.3"/>
<text x="434.2" y="778" font-size="12.6" fill="#222" text-anchor="middle" font-weight="bold" >5</text>
<text x="343.9" y="791.2" font-size="12.6" fill="#222" text-anchor="middle" font-weight="bold" >Time/s</text>
<text transform="translate(205.4 714.8) rotate(-90)" font-size="12.5" fill="#222" font-weight="bold"><tspan font-style="italic">V</tspan><tspan font-size="7" dy="2.6">Output</tspan><tspan dy="-2.6">/V</tspan></text>
<text x="253" y="633.8" font-size="9.8" fill="#222" text-anchor="start" font-weight="bold" >Current loss</text>
<text x="321.9" y="633.8" font-size="9.8" fill="#ee2a2a" text-anchor="start" font-weight="bold" >Optimized</text>
<text x="376.8" y="633.8" font-size="9.8" fill="#222" text-anchor="start" font-weight="bold" >Reverse current</text>
<g transform="translate(285.1 739.7) rotate(-15)"><rect x="-32.5" y="-3.3" width="65" height="6.6" rx="3.3" fill="#fff" stroke="#34427e" stroke-width="1.1"/></g>
<path d="M253.5 749.3 L279 749.3" stroke="#333" stroke-width="1.1"/>
<text x="296.6" y="750.8" font-size="11" fill="#222" text-anchor="start" font-weight="bold" >15&#176;</text>
<g transform="translate(348.3 738.8) rotate(-30)"><rect x="-18.5" y="-3.3" width="37" height="6.6" rx="3.3" fill="#fff" stroke="#34427e" stroke-width="1.1"/></g>
<path d="M333 749.3 L358 749.3" stroke="#333" stroke-width="1.1"/>
<text x="359.6" y="750.8" font-size="11" fill="#ee2a2a" text-anchor="start" font-weight="bold" >30&#176;</text>
<g transform="translate(413.9 739.6) rotate(-45)"><rect x="-13.5" y="-3.3" width="27" height="6.6" rx="3.3" fill="#fff" stroke="#34427e" stroke-width="1.1"/></g>
<path d="M404 749.3 L428 749.3" stroke="#333" stroke-width="1.1"/>
<text x="430.7" y="750.8" font-size="11" fill="#222" text-anchor="start" font-weight="bold" >45&#176;</text>
<path d="M266 749.3 A12 12 0 0 0 265.6 746" stroke="#333" stroke-width="1" fill="none"/>
<path d="M344 749.3 A9 9 0 0 0 342.8 744.8" stroke="#333" stroke-width="1" fill="none"/>
<path d="M415 749.3 A8 8 0 0 0 412.7 743.6" stroke="#333" stroke-width="1" fill="none"/>
<text x="467.5" y="626.2" font-size="11.2" fill="#222" text-anchor="start" font-weight="bold" >(i)</text>
<path d="M523 655.9 L536.59 655.9 L537.48 646.73 L538.38 648.26 M556.02 637.56 L558.4 649.79 L561.14 655.9 L570.2 655.9 L571.1 664.39 L571.99 662.98 M586.77 672.88 L589.16 661.56 L589.75 655.9 L601.08 655.9 L601.97 645.54 L602.86 647.27 M618.96 635.18 L621.34 648.99 L621.94 655.9 L635.41 655.9 L636.3 664.47 L637.19 663.05 M657.7 673.05 L660.08 661.62 L661.27 655.9 L667.23 655.9" stroke="#777777" stroke-width="1" fill="none" stroke-linejoin="round"/>
<path d="M537.78 657.06 L537.78 635.55 M538.77 657.19 L538.77 633.76 M539.76 656.04 L539.76 631.21 M540.75 657.69 L540.75 633.98 M541.75 656.4 L541.75 631.67 M542.74 656.91 L542.74 626.23 M543.73 656.92 L543.73 626.75 M544.72 656.22 L544.72 627.81 M545.71 657.76 L545.71 627.81 M546.7 657.49 L546.7 628.77 M547.69 656.04 L547.69 628.23 M548.68 657.16 L548.68 628.33 M549.68 655.97 L549.68 632.03 M550.67 656.91 L550.67 629.57 M551.66 657.78 L551.66 631.55 M552.65 657.87 L552.65 632.75 M553.64 657.61 L553.64 634.7 M554.63 657.9 L554.63 634.44 M555.62 656.11 L555.62 632.1 M556.61 656.36 L556.61 636.1" stroke="#2a2a2a" stroke-width="0.85" fill="none" opacity="0.92"/>
<path d="M571.4 655.04 L571.4 678.37 M572.39 655.3 L572.39 677.94 M573.39 655.14 L573.39 678.46 M574.39 654.74 L574.39 678.57 M575.39 654.11 L575.39 680.74 M576.39 654.06 L576.39 681.91 M577.38 653.94 L577.38 683.28 M578.38 655.58 L578.38 682.1 M579.38 653.99 L579.38 682.91 M580.38 654.77 L580.38 682.52 M581.38 655.48 L581.38 680.48 M582.38 654.76 L582.38 680.03 M583.37 655.77 L583.37 675.91 M584.37 653.94 L584.37 677.81 M585.37 654.31 L585.37 674 M586.37 655.6 L586.37 675.6 M587.37 654.38 L587.37 675.02" stroke="#2a2a2a" stroke-width="0.85" fill="none" opacity="0.92"/>
<path d="M602.27 656.01 L602.27 629.05 M603.23 656.01 L603.23 629.25 M604.19 656.7 L604.19 627.25 M605.15 658.27 L605.15 624.91 M606.11 658.31 L606.11 626.57 M607.07 656.09 L607.07 627.28 M608.03 655.98 L608.03 624.63 M608.99 656.89 L608.99 627.48 M609.95 656.28 L609.95 624.43 M610.91 658 L610.91 629.06 M611.87 658.22 L611.87 627.65 M612.83 656.81 L612.83 624.35 M613.79 657.16 L613.79 628.52 M614.75 657.34 L614.75 628.53 M615.71 657.4 L615.71 630.41 M616.67 657.13 L616.67 628.64 M617.63 657.64 L617.63 631.74 M618.59 656.63 L618.59 632.91 M619.55 657.16 L619.55 628.41" stroke="#2a2a2a" stroke-width="0.85" fill="none" opacity="0.92"/>
<path d="M636.6 655.88 L636.6 676.49 M637.58 654.74 L637.58 676.71 M638.57 654.67 L638.57 675.4 M639.56 655.78 L639.56 679.6 M640.54 654.97 L640.54 680.33 M641.53 655.19 L641.53 681.29 M642.51 654.42 L642.51 681.99 M643.5 655.78 L643.5 678.1 M644.49 653.97 L644.49 682.39 M645.47 654.99 L645.47 679.77 M646.46 655.26 L646.46 681.8 M647.44 655.27 L647.44 680.11 M648.43 654.71 L648.43 679.73 M649.42 655.15 L649.42 678.79 M650.4 655.85 L650.4 680.87 M651.39 654.43 L651.39 678.92 M652.38 655.45 L652.38 676.66 M653.36 655.42 L653.36 678.36 M654.35 655.03 L654.35 674.68 M655.33 655.7 L655.33 677.25 M656.32 655.23 L656.32 675.36 M657.31 655.02 L657.31 677.93 M658.29 655.56 L658.29 678.04" stroke="#2a2a2a" stroke-width="0.85" fill="none" opacity="0.92"/>
<path d="M523 731.4 L535.52 731.4 L536.41 722.92 L537.3 724.34 M551.61 714.45 L553.99 725.75 L555.48 731.4 L567.7 731.4 L568.59 722.25 L569.49 723.77 M585.58 713.09 L587.96 725.3 L589.75 731.4 L601.08 731.4 L601.97 723.18 L602.86 724.55 M618.96 714.96 L621.34 725.92 L621.94 731.4 L634.45 731.4 L635.35 721.48 L636.24 723.14 M652.33 711.57 L654.72 724.79 L657.1 731.4 L667.23 731.4" stroke="#e898a8" stroke-width="1" fill="none" stroke-linejoin="round"/>
<path d="M536.71 732.69 L536.71 712.1 M537.68 732.29 L537.68 708.03 M538.64 731.64 L538.64 710.44 M539.61 731.78 L539.61 707.74 M540.58 733.06 L540.58 705.26 M541.55 731.95 L541.55 708.49 M542.52 732.67 L542.52 704.37 M543.49 732.08 L543.49 704.41 M544.46 731.98 L544.46 708.91 M545.42 731.94 L545.42 705.49 M546.39 732.22 L546.39 708.98 M547.36 732.21 L547.36 709.58 M548.33 731.71 L548.33 708.11 M549.3 733.27 L549.3 713.75 M550.27 733.35 L550.27 709.4 M551.24 733.28 L551.24 711.61 M552.2 731.84 L552.2 709.16" stroke="#dd6a84" stroke-width="0.85" fill="none" opacity="0.92"/>
<path d="M568.89 733.19 L568.89 708.36 M569.85 732.51 L569.85 707.58 M570.81 732.13 L570.81 708.63 M571.77 731.55 L571.77 708.06 M572.73 732.01 L572.73 704.95 M573.69 731.5 L573.69 702.82 M574.65 732.88 L574.65 701.74 M575.61 733.31 L575.61 701.41 M576.57 732.63 L576.57 701.65 M577.53 732.99 L577.53 707.88 M578.49 732.04 L578.49 707.35 M579.45 732.52 L579.45 704.99 M580.41 733.41 L580.41 707.48 M581.37 732.13 L581.37 707.4 M582.34 733.24 L582.34 710.56 M583.3 733.07 L583.3 709.8 M584.26 731.82 L584.26 710.47 M585.22 733.14 L585.22 709.49 M586.18 733.09 L586.18 711.44" stroke="#dd6a84" stroke-width="0.85" fill="none" opacity="0.92"/>
<path d="M602.27 732.95 L602.27 709.86 M603.23 731.41 L603.23 709.19 M604.19 733.05 L604.19 709.14 M605.15 731.92 L605.15 711.42 M606.11 732.41 L606.11 709.48 M607.07 732.31 L607.07 708.02 M608.03 731.4 L608.03 705.52 M608.99 731.64 L608.99 709.7 M609.95 731.53 L609.95 709.34 M610.91 733.04 L610.91 704.56 M611.87 732.36 L611.87 710.3 M612.83 732 L612.83 709.63 M613.79 732.64 L613.79 710.26 M614.75 732.09 L614.75 709.97 M615.71 732.03 L615.71 712.99 M616.67 732.47 L616.67 713.7 M617.63 732.13 L617.63 710.85 M618.59 731.74 L618.59 713.92 M619.55 732.56 L619.55 712.5" stroke="#dd6a84" stroke-width="0.85" fill="none" opacity="0.92"/>
<path d="M635.64 732.28 L635.64 706.22 M636.6 732.84 L636.6 704.75 M637.56 732.26 L637.56 705.82 M638.52 733.03 L638.52 704.31 M639.48 733.01 L639.48 703.91 M640.45 731.97 L640.45 702.93 M641.41 733.01 L641.41 701.92 M642.37 732.38 L642.37 705.1 M643.33 733.44 L643.33 702.61 M644.29 732.27 L644.29 699.31 M645.25 733.23 L645.25 700.26 M646.21 732.47 L646.21 705.51 M647.17 733.28 L647.17 707.39 M648.13 733.45 L648.13 705.08 M649.09 732.94 L649.09 705.62 M650.05 732.7 L650.05 706.51 M651.01 732.76 L651.01 710.18 M651.97 731.73 L651.97 710.75 M652.93 731.5 L652.93 706.27" stroke="#dd6a84" stroke-width="0.85" fill="none" opacity="0.92"/>
<rect x="508.2" y="619.6" width="180.40000000000003" height="73.29999999999995" fill="none" stroke="#222" stroke-width="1.5"/>
<rect x="508.2" y="695.8" width="180.40000000000003" height="72.80000000000007" fill="none" stroke="#222" stroke-width="1.5"/>
<path d="M503.7 627.6 L508.2 627.6" stroke="#222" stroke-width="1.3"/>
<text x="503" y="632.1" font-size="12.4" fill="#222" text-anchor="end" font-weight="bold" >500</text>
<path d="M503.7 655.9 L508.2 655.9" stroke="#222" stroke-width="1.3"/>
<text x="503" y="660.4" font-size="12.4" fill="#222" text-anchor="end" font-weight="bold" >0</text>
<path d="M503.7 684.2 L508.2 684.2" stroke="#222" stroke-width="1.3"/>
<text x="503" y="688.7" font-size="12.4" fill="#222" text-anchor="end" font-weight="bold" >&#8722;500</text>
<path d="M503.7 703.15 L508.2 703.15" stroke="#222" stroke-width="1.3"/>
<text x="503" y="707.65" font-size="12.4" fill="#222" text-anchor="end" font-weight="bold" >500</text>
<path d="M503.7 731.4 L508.2 731.4" stroke="#222" stroke-width="1.3"/>
<text x="503" y="735.9" font-size="12.4" fill="#222" text-anchor="end" font-weight="bold" >0</text>
<path d="M503.7 759.65 L508.2 759.65" stroke="#222" stroke-width="1.3"/>
<text x="503" y="764.15" font-size="12.4" fill="#222" text-anchor="end" font-weight="bold" >&#8722;500</text>
<path d="M523 768.6 L523 772.6" stroke="#222" stroke-width="1.3"/>
<text x="523" y="784.8" font-size="12.4" fill="#222" text-anchor="middle" font-weight="bold" >0.0</text>
<path d="M552.8 768.6 L552.8 772.6" stroke="#222" stroke-width="1.3"/>
<text x="552.8" y="784.8" font-size="12.4" fill="#222" text-anchor="middle" font-weight="bold" >0.5</text>
<path d="M582.6 768.6 L582.6 772.6" stroke="#222" stroke-width="1.3"/>
<text x="582.6" y="784.8" font-size="12.4" fill="#222" text-anchor="middle" font-weight="bold" >1.0</text>
<path d="M612.4 768.6 L612.4 772.6" stroke="#222" stroke-width="1.3"/>
<text x="612.4" y="784.8" font-size="12.4" fill="#222" text-anchor="middle" font-weight="bold" >1.5</text>
<path d="M642.2 768.6 L642.2 772.6" stroke="#222" stroke-width="1.3"/>
<text x="642.2" y="784.8" font-size="12.4" fill="#222" text-anchor="middle" font-weight="bold" >2.0</text>
<path d="M672 768.6 L672 772.6" stroke="#222" stroke-width="1.3"/>
<text x="672" y="784.8" font-size="12.4" fill="#222" text-anchor="middle" font-weight="bold" >2.5</text>
<text x="597" y="800" font-size="12.6" fill="#222" text-anchor="middle" font-weight="bold" >Time/s</text>
<text transform="translate(467.8 716.5) rotate(-90)" font-size="12.5" fill="#222" font-weight="bold"><tspan font-style="italic">V</tspan><tspan font-size="7" dy="2.6">Output</tspan><tspan dy="-2.6">/V</tspan></text>
<text x="513.6" y="685" font-size="11.5" fill="#222" text-anchor="start" font-weight="bold" >W/O Slot</text>
<text x="543.9" y="746" font-size="11.2" fill="#ee2a2a" text-anchor="middle" font-weight="bold" >CW</text>
<text x="578.1" y="746" font-size="11.2" fill="#2a5ab8" text-anchor="middle" font-weight="bold" >CCW</text>
<text x="611.1" y="746" font-size="11.2" fill="#ee2a2a" text-anchor="middle" font-weight="bold" >CW</text>
<text x="644.9" y="746" font-size="11.2" fill="#2a5ab8" text-anchor="middle" font-weight="bold" >CCW</text>
<text x="513.4" y="758.4" font-size="11.2" fill="#ee2a2a" text-anchor="start" font-weight="bold" >W/Slot (30&#176;)</text>
</svg>
</body></html>
